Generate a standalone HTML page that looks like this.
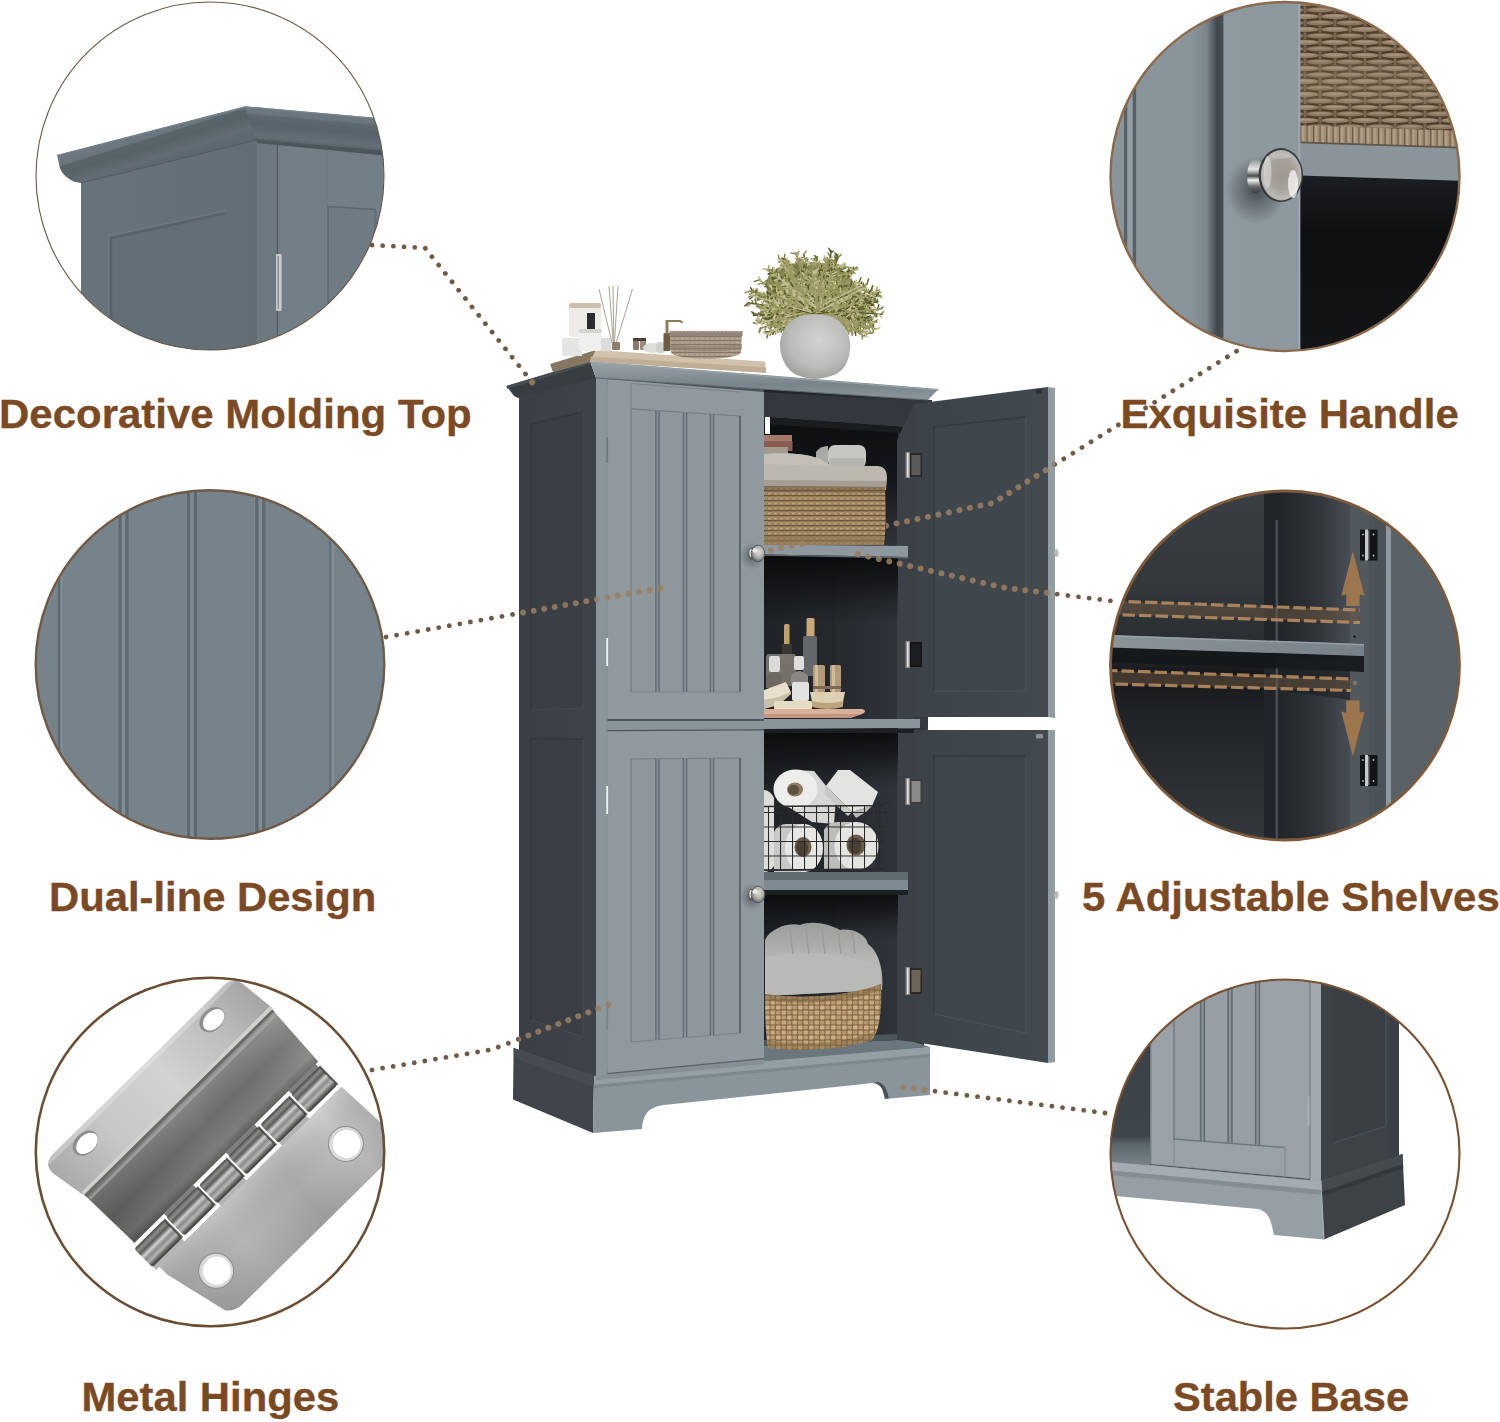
<!DOCTYPE html>
<html lang="en">
<head>
<meta charset="utf-8">
<title>Storage Cabinet Features</title>
<style>
html,body{margin:0;padding:0;background:#fff;}
body{width:1500px;height:1422px;overflow:hidden;position:relative;font-family:"Liberation Sans",Arial,sans-serif;}
svg{position:absolute;left:0;top:0;display:block;}
.lbl{font-family:"Liberation Sans",Arial,sans-serif;font-weight:bold;font-size:42px;fill:#7b4a24;stroke:#7b4a24;stroke-width:0.35px;}
.dots{fill:none;stroke:#6f5a45;stroke-width:4.8;stroke-linecap:round;stroke-dasharray:0.01 10.7;}
.dotsl{fill:none;stroke:#9a7f60;stroke-width:6;opacity:0.85;stroke-linecap:round;stroke-dasharray:0.01 10.7;}
.ring{fill:none;stroke:#7b5230;stroke-width:2;}
</style>
</head>
<body>
<svg width="1500" height="1422" viewBox="0 0 1500 1422">
<defs>
<clipPath id="k1"><circle cx="210" cy="176" r="174"/></clipPath>
<clipPath id="k2"><circle cx="210" cy="664.5" r="174.5"/></clipPath>
<clipPath id="k3"><circle cx="210" cy="1152" r="174"/></clipPath>
<clipPath id="k4"><circle cx="1285" cy="176.5" r="174.5"/></clipPath>
<clipPath id="k5"><circle cx="1285" cy="665.5" r="174.5"/></clipPath>
<clipPath id="k6"><circle cx="1285" cy="1154" r="174.5"/></clipPath>
</defs>
<g id="dots">
<polyline class="dots" points="372,245 425,248 533.2,383.6"/>
<polyline class="dots" points="386,637 661,588"/>
<polyline class="dots" points="372,1070 492,1049.5 610,1004"/>
<polyline class="dots" points="1236.5,351.2 993,503 767,551"/>
<polyline class="dots" points="1110.4,600.8 1004,587.6 857,554"/>
<polyline class="dots" points="1105,1113 902,1087"/>
</g>
<g id="cabinet">
<linearGradient id="gInt" x1="0" y1="0" x2="1" y2="0"><stop offset="0" stop-color="#1f2327"/><stop offset="0.45" stop-color="#262a2f"/><stop offset="1" stop-color="#353a40"/></linearGradient>
<polygon points="763,388 932,400 924,1050 763,1062" fill="url(#gInt)"/>
<linearGradient id="gTopSh" x1="0" y1="0" x2="0" y2="1"><stop offset="0" stop-color="#0b0d0f" stop-opacity="0.95"/><stop offset="0.5" stop-color="#0e1012" stop-opacity="0.8"/><stop offset="1" stop-color="#15181b" stop-opacity="0"/></linearGradient>
<rect x="764" y="415" width="134" height="130" fill="url(#gTopSh)"/>
<polygon points="764,392 930,402 916,428 764,417" fill="#33383e"/>
<polygon points="764,417 916,428 916,434 764,424" fill="#1a1d20"/>
<polygon points="765,417 770,417 770,434 765,434" fill="#fff"/>
<rect x="832" y="558" width="3" height="160" fill="#22262a"/>
<rect x="832" y="890" width="3" height="150" fill="#22262a"/>
<polygon points="897,440 914,404 914,1044 897,1046" fill="#3b4147"/>
<polygon points="764,1046 897,1040 914,1042 930,1047 764,1062" fill="#6b777e"/>
<polygon points="764,1040 897,1034 897,1040 764,1046" fill="#4b555c"/>
<linearGradient id="gSide" x1="0" y1="0" x2="1" y2="0"><stop offset="0" stop-color="#3b4046"/><stop offset="1" stop-color="#3e4349"/></linearGradient>
<polygon points="519,396 596,377 596,1077 519,1050" fill="url(#gSide)"/>
<polygon points="531,424 583,412 583,708 531,710" fill="#3a3f45"/>
<polyline points="531,710 531,424 583,412" fill="none" stroke="#33383d" stroke-width="1.6"/>
<polyline points="583,412 583,708 531,710" fill="none" stroke="#454a50" stroke-width="1"/>
<polygon points="531,738 583,739 583,1037 531,1020" fill="#3a3f45"/>
<polyline points="531,1020 531,738 583,739" fill="none" stroke="#33383d" stroke-width="1.6"/>
<polyline points="583,739 583,1037 531,1020" fill="none" stroke="#474c52" stroke-width="1"/>
<polygon points="513.6,1048 594,1076 593,1133 513,1099.6" fill="#3f454b"/>
<polygon points="513.6,1048 594,1076 594,1087 514,1058" fill="#454b51"/>
<path d="M594,1076 L930,1047 L930,1095 L885,1099 C883,1090 882,1084 873,1083 L664,1105 C648,1107 643,1115 642,1129 L593,1133 Z" fill="#8a959b"/>
<path d="M594,1076 L930,1047 L930,1054 L594,1085 Z" fill="#949fa5"/>
<path d="M594,1085 L930,1054 L930,1057 L594,1088 Z" fill="#7d888e"/>
<path d="M885,1099 C883,1090 882,1084 873,1083 L878,1082 C886,1084 887,1092 889,1098 Z" fill="#4a5157"/>
<polygon points="596,376 764,388 764,396 596,384" fill="#4a5157"/>
<polygon points="596,1070 764,1054 764,1064 596,1080" fill="#858f95"/>
<polygon points="596,377 607.5,378 607.5,1075 596,1077" fill="#8b969c"/>
<line x1="607.3" y1="380" x2="607.3" y2="1074" stroke="#6f7a80" stroke-width="1"/>
<polygon points="607.5,379 764,392 764,719 607.5,719" fill="#8f999e"/>
<polygon points="631,409 740,416 740,692 631,692" fill="#8d979c"/>
<polyline points="631,692 631,409 740,416" fill="none" stroke="#737e84" stroke-width="1.2"/>
<polyline points="740,416 740,692" fill="none" stroke="#566066" stroke-width="1.8"/>
<polyline points="740,692 631,692" fill="none" stroke="#7c878d" stroke-width="1"/>
<rect x="655.1" y="410.7" width="4.8" height="281.3" fill="#848f95"/>
<rect x="655.3" y="410.7" width="1.2" height="281.3" fill="#5f6a70"/>
<rect x="658.5" y="410.7" width="1.2" height="281.3" fill="#5f6a70"/>
<rect x="682.6" y="412.5" width="4.8" height="279.5" fill="#848f95"/>
<rect x="682.8" y="412.5" width="1.2" height="279.5" fill="#5f6a70"/>
<rect x="686.0" y="412.5" width="1.2" height="279.5" fill="#5f6a70"/>
<rect x="709.6" y="414.2" width="4.8" height="277.8" fill="#848f95"/>
<rect x="709.8" y="414.2" width="1.2" height="277.8" fill="#5f6a70"/>
<rect x="713.0" y="414.2" width="1.2" height="277.8" fill="#5f6a70"/>
<polyline points="631,409 631,383.5 740,392" fill="none" stroke="#7a848a" stroke-width="1"/>
<polyline points="631,731.5 631,759" fill="none" stroke="#7a848a" stroke-width="1"/>
<polygon points="607.5,731 764,730 764,1058 607.5,1073" fill="#8f999e"/>
<polygon points="631,759 740,758 740,1033 631,1042" fill="#8d979c"/>
<polyline points="631,1042 631,759 740,758" fill="none" stroke="#737e84" stroke-width="1.2"/>
<polyline points="740,758 740,1033" fill="none" stroke="#566066" stroke-width="1.8"/>
<polyline points="740,1033 631,1042" fill="none" stroke="#7c878d" stroke-width="1"/>
<rect x="655.1" y="758.8" width="4.8" height="281.1" fill="#848f95"/>
<rect x="655.3" y="758.8" width="1.2" height="281.1" fill="#5f6a70"/>
<rect x="658.5" y="758.8" width="1.2" height="281.1" fill="#5f6a70"/>
<rect x="682.6" y="758.5" width="4.8" height="279.0" fill="#848f95"/>
<rect x="682.8" y="758.5" width="1.2" height="279.0" fill="#5f6a70"/>
<rect x="686.0" y="758.5" width="1.2" height="279.0" fill="#5f6a70"/>
<rect x="709.6" y="758.3" width="4.8" height="277.1" fill="#848f95"/>
<rect x="709.8" y="758.3" width="1.2" height="277.1" fill="#5f6a70"/>
<rect x="713.0" y="758.3" width="1.2" height="277.1" fill="#5f6a70"/>
<line x1="607.5" y1="1073.6" x2="764" y2="1058.6" stroke="#59636a" stroke-width="1.2"/>
<polygon points="607.5,719 764,719 764,730 607.5,731" fill="#8a959b"/>
<line x1="607.5" y1="720" x2="764" y2="720" stroke="#3c4248" stroke-width="1.6"/>
<line x1="607.5" y1="730.6" x2="764" y2="729.8" stroke="#4b5258" stroke-width="1.2"/>
<rect x="606.3" y="437" width="1.8" height="26" fill="#6e797f"/>
<rect x="606.3" y="638" width="1.8" height="28" fill="#f2f2f2"/>
<rect x="606.3" y="786" width="1.8" height="28" fill="#f2f2f2"/>
<rect x="606.3" y="1001" width="1.8" height="29" fill="#79848a"/>
<radialGradient id="gKn" cx="0.55" cy="0.4" r="0.65"><stop offset="0" stop-color="#dcdad4"/><stop offset="0.5" stop-color="#b5b3ad"/><stop offset="0.85" stop-color="#77787a"/><stop offset="1" stop-color="#3f4042"/></radialGradient>
<radialGradient id="gKs" cx="0.5" cy="0.5" r="0.5"><stop offset="0" stop-color="#4a5258" stop-opacity="0.7"/><stop offset="1" stop-color="#4a5258" stop-opacity="0"/></radialGradient>
<ellipse cx="752" cy="556" rx="12" ry="14" fill="url(#gKs)"/>
<ellipse cx="752" cy="897" rx="12" ry="14" fill="url(#gKs)"/>
<linearGradient id="gShd" x1="0" y1="0" x2="0" y2="1"><stop offset="0" stop-color="#08090a" stop-opacity="0.95"/><stop offset="0.35" stop-color="#0c0d0f" stop-opacity="0.75"/><stop offset="1" stop-color="#101214" stop-opacity="0"/></linearGradient>
<rect x="764" y="554" width="134" height="70" fill="url(#gShd)"/>
<rect x="764" y="728" width="134" height="60" fill="url(#gShd)"/>
<rect x="764" y="889" width="134" height="50" fill="url(#gShd)"/>
<polygon points="764,544.5 908,546 908,557 764,554.5" fill="#8e989e"/>
<polygon points="764,554.5 908,557 908,558.4 764,555.8" fill="#5c666c"/>
<polygon points="764,719 920,719 920,728 764,729" fill="#8a959b"/>
<rect x="764" y="729" width="150" height="4" fill="#1d2023"/>
<polygon points="764,872 908,872 908,880 764,880" fill="#5f6a71"/>
<polygon points="764,880 908,880 908,890 764,890" fill="#7e8a91"/>
<rect x="764" y="890" width="144" height="5" fill="#1d2023"/>
</g>
<g id="items">
<defs>
<pattern id="pWk1" width="6" height="5" patternUnits="userSpaceOnUse"><rect width="6" height="5" fill="#9b815d"/><rect x="0" y="0" width="6" height="1.3" fill="#6e573c"/><rect x="0" y="2.6" width="2.8" height="1.7" fill="#bfa57c"/><rect x="3.2" y="1.5" width="2.4" height="1.2" fill="#ac9169"/></pattern>
<pattern id="pWk2" width="11" height="10" patternUnits="userSpaceOnUse"><rect width="11" height="10" fill="#876a48"/><rect x="0.5" y="0.5" width="4.6" height="4" rx="1" fill="#c4a97f"/><rect x="6" y="0.8" width="4.4" height="3.6" rx="1" fill="#b4986c"/><rect x="0.5" y="5.5" width="4.4" height="3.8" rx="1" fill="#b99c70"/><rect x="6" y="5.4" width="4.6" height="4" rx="1" fill="#c9b088"/></pattern>
<pattern id="pGrid" width="12" height="14.5" patternUnits="userSpaceOnUse"><path d="M0.5,0 V14.5 M0,0.5 H12" stroke="#2a2a2a" stroke-width="1.1" fill="none"/></pattern>
<linearGradient id="gTowel" x1="0" y1="0" x2="0" y2="1"><stop offset="0" stop-color="#9c9c9a"/><stop offset="0.5" stop-color="#b6b6b4"/><stop offset="1" stop-color="#a6a6a4"/></linearGradient>
</defs>
<rect x="764" y="435" width="28" height="7" fill="#a57a6d"/>
<rect x="764" y="441" width="28.5" height="10" fill="#8b5d52"/>
<rect x="764" y="447" width="24" height="8" fill="#a3998d"/>
<path d="M816,452 q4,-6 12,-6 v18 h-12 z" fill="#a9a9a5"/>
<rect x="828" y="445" width="38" height="23" rx="7" fill="#c6c6c2"/>
<rect x="829" y="458" width="36" height="9" rx="4" fill="#b4b4b0"/>
<path d="M764,454 C790,452 812,455 822,460 C828,464 832,466 840,466 L878,466 C885,467 887,471 887,478 L886,490 L764,489 Z" fill="#bdb8af"/>
<path d="M764,454 C790,452 812,455 822,460 C826,463 829,465 834,466 L764,464 Z" fill="#c2bfb8"/>
<path d="M764,480 L886,481 L886,489 L764,488 Z" fill="#a49e94"/>
<path d="M764,486 L885,487 C886,510 886,530 884,545 L764,545 Z" fill="url(#pWk1)"/>
<path d="M764,486 L885,487 L885,493 L764,492 Z" fill="#6e5a40" opacity="0.5"/>
<path d="M764,536 L884,537 L884,545 L764,545 Z" fill="#8d744f" opacity="0.6"/>
<rect x="784" y="624" width="5.5" height="22" rx="1.5" fill="#c2a06c"/>
<rect x="782" y="644" width="10" height="20" fill="#3a3632"/>
<rect x="806.5" y="618" width="8" height="19" rx="1.5" fill="#c9a776"/>
<rect x="803" y="636" width="14" height="40" rx="2" fill="#64686a"/>
<rect x="766" y="654" width="30" height="32" rx="3" fill="#8a847c" opacity="0.8"/>
<rect x="769" y="656" width="11" height="16" rx="2" fill="#dadad8"/>
<path d="M766,676 q8,-8 16,0 v12 h-16 z" fill="#6e6862"/>
<rect x="794" y="656" width="10" height="14" rx="2" fill="#dededc"/>
<path d="M791,676 q8,-10 17,0 v8 h-17 z" fill="#8b8782"/>
<rect x="792" y="682" width="17" height="19" rx="2" fill="#e2e2e0"/>
<rect x="813" y="665" width="12" height="27" rx="1.5" fill="#b29a7a"/>
<rect x="815" y="665" width="3" height="27" fill="#d0bb9b"/>
<rect x="830" y="665" width="11" height="27" rx="1.5" fill="#b29a7a"/>
<rect x="832" y="665" width="3" height="27" fill="#d0bb9b"/>
<rect x="813" y="686" width="28" height="3" fill="#7c6a52"/>
<path d="M810,692 h35 l-2,10 q-15,4 -31,0 z" fill="#dccfb2"/>
<path d="M811.5,701 q16,4 32,0 l-0.8,6 q-15,4 -30.5,0 z" fill="#bfa57e"/>
<polygon points="764,690 786,682 791,692 779,703 764,708" fill="#e7dfcb"/>
<polygon points="764,700 779,697 791,692 791,694 779,705 764,709" fill="#c9bfa8"/>
<rect x="774" y="701" width="38" height="8.5" rx="1.5" fill="#e6dcc4"/>
<path d="M764,709 L862,709 C866,710 866,712 862,714 L850,718 L764,718 Z" fill="#d9b19b"/>
<path d="M764,714 L862,714 L850,718 L764,718 Z" fill="#c29682"/>
<path d="M764,790 q6,0 10,8 v68 q-4,6 -10,6 z" fill="#dcdcda"/>
<path d="M795,770 L814,771 L836,798 L834,824 L812,822 L790,808 Z" fill="#d6d6d4"/>
<ellipse cx="795.5" cy="789" rx="22" ry="19.5" fill="#ededeb"/>
<ellipse cx="795" cy="789.5" rx="8" ry="7" fill="#8d7b5f"/>
<ellipse cx="793.5" cy="790" rx="5.5" ry="5" fill="#5e5140"/>
<path d="M838,770 L850,770 L878,792 L872,806 L852,812 L826,786 Z" fill="#e3e3e1"/>
<path d="M852,812 L872,806 L866,812 L856,818 Z" fill="#b9b9b7"/>
<path d="M826,786 L852,812 L848,816 L824,794 Z" fill="#c9c9c7"/>
<path d="M774,832 q4,-8 12,-8 h20 v48 h-32 z" fill="#c8c8c6"/>
<ellipse cx="804" cy="848" rx="19" ry="24" fill="#e6e6e4"/>
<ellipse cx="803" cy="847" rx="8.5" ry="10" fill="#6b5c48"/>
<ellipse cx="802" cy="848" rx="6" ry="7.5" fill="#4a3f32"/>
<path d="M824,830 q4,-8 14,-8 h18 v48 h-32 z" fill="#bdbdbb"/>
<ellipse cx="856.5" cy="846" rx="22" ry="24" fill="#e4e4e2"/>
<ellipse cx="856" cy="845" rx="9.5" ry="10.5" fill="#6b5c48"/>
<ellipse cx="855" cy="846" rx="6.5" ry="8" fill="#4a3f32"/>
<path d="M764,806 L880,805 L888,802 L884,870 L764,871 Z" fill="url(#pGrid)"/>
<path d="M764,806.5 L880,805.5 L888,802.5" fill="none" stroke="#2a2a2a" stroke-width="1.6"/>
<path d="M880,805.5 L879,870" fill="none" stroke="#2a2a2a" stroke-width="1.2"/>
<path d="M764,870 L884,869" fill="none" stroke="#2a2a2a" stroke-width="1.6"/>
<path d="M765,940 C770,928 790,922 800,925 C812,920 830,924 840,930 C852,928 866,934 868,944 C880,952 884,975 882,990 L765,996 Z" fill="url(#gTowel)"/>
<path d="M765,958 C790,950 840,950 880,966 L882,990 L765,996 Z" fill="#b9b9b7"/>
<path d="M790,930 l3,24" stroke="#9a9a98" stroke-width="1.5" fill="none"/>
<path d="M806,930 l3,24" stroke="#9a9a98" stroke-width="1.5" fill="none"/>
<path d="M822,930 l3,24" stroke="#9a9a98" stroke-width="1.5" fill="none"/>
<path d="M838,930 l3,24" stroke="#9a9a98" stroke-width="1.5" fill="none"/>
<path d="M852,930 l3,24" stroke="#9a9a98" stroke-width="1.5" fill="none"/>
<path d="M765,994 C800,1000 850,996 881,984 C882,1010 880,1030 872,1040 C840,1050 800,1052 768,1048 C765,1030 765,1010 765,994 Z" fill="url(#pWk2)"/>
<path d="M765,994 C800,1000 850,996 881,984 L881,990 C850,1002 800,1006 765,1000 Z" fill="#7d6340" opacity="0.55"/>
<path d="M768,1040 C800,1046 840,1044 874,1032 L872,1040 C840,1050 800,1052 768,1048 Z" fill="#7d6340" opacity="0.5"/>
</g>
<g id="cab2">
<linearGradient id="gRD" x1="0" y1="0" x2="1" y2="0"><stop offset="0" stop-color="#3c4248"/><stop offset="1" stop-color="#424a50"/></linearGradient>
<polygon points="914,404 1048,387 1048,717 914,717" fill="url(#gRD)"/>
<polygon points="934,427 1026,417 1026,691 934,691" fill="#3f474d"/>
<polyline points="934,691 934,427 1026,417" fill="none" stroke="#353b40" stroke-width="1.5"/>
<polyline points="1026,417 1026,691 934,691" fill="none" stroke="#4a5258" stroke-width="1.2"/>
<polygon points="1048,387 1055,388 1055,718 1048,717" fill="#919ca2"/>
<polygon points="914,730 1048,730 1048,1063 914,1042" fill="url(#gRD)"/>
<polygon points="934,756 1026,756 1026,1033 934,1014" fill="#3f474d"/>
<polyline points="934,1014 934,756 1026,756" fill="none" stroke="#353b40" stroke-width="1.5"/>
<polyline points="1026,756 1026,1033 934,1014" fill="none" stroke="#4a5258" stroke-width="1.2"/>
<polygon points="1048,730 1055,730 1055,1062 1048,1063" fill="#919ca2"/>
<rect x="1036" y="389.5" width="6" height="4" rx="1" fill="#2a2e32"/>
<rect x="1036" y="734" width="7" height="4.5" rx="1" fill="#8a9196"/>
<ellipse cx="1056.5" cy="553" rx="2" ry="4" fill="#b9bcbd"/>
<ellipse cx="1056.5" cy="895" rx="2" ry="4" fill="#b9bcbd"/>
<rect x="905.5" y="452" width="4.5" height="26" fill="#8a8b8a"/>
<rect x="907" y="453" width="1.6" height="24" fill="#e4e4e4"/>
<rect x="910" y="453" width="12" height="24" rx="1" fill="#2a2b2c"/>
<rect x="911.5" y="455" width="9" height="20" fill="#5a5b5b"/>
<rect x="905.5" y="641" width="4.5" height="27" fill="#8a8b8a"/>
<rect x="907" y="642" width="1.6" height="25" fill="#e4e4e4"/>
<rect x="910" y="642" width="12" height="25" rx="1" fill="#141516"/>
<rect x="911.5" y="644" width="9" height="21" fill="#1d1e1f"/>
<rect x="905.5" y="778" width="4.5" height="27" fill="#8a8b8a"/>
<rect x="907" y="779" width="1.6" height="25" fill="#e4e4e4"/>
<rect x="910" y="779" width="12" height="25" rx="1" fill="#3a3b3b"/>
<rect x="911.5" y="781" width="9" height="21" fill="#8a8a88"/>
<rect x="905.5" y="967" width="4.5" height="28" fill="#8a8b8a"/>
<rect x="907" y="968" width="1.6" height="26" fill="#e4e4e4"/>
<rect x="910" y="968" width="12" height="26" rx="1" fill="#2e2a26"/>
<rect x="911.5" y="970" width="9" height="22" fill="#6e655a"/>
<ellipse cx="751.5" cy="554" rx="3.5" ry="6" fill="#5d5f61"/>
<ellipse cx="751" cy="553" rx="1.6" ry="4" fill="#e6e6e4"/>
<ellipse cx="758" cy="553.5" rx="6.8" ry="8.3" fill="url(#gKn)" stroke="#4c4d4f" stroke-width="0.8"/>
<ellipse cx="755" cy="550.5" rx="2.6" ry="2.2" fill="#fff" opacity="0.7"/>
<ellipse cx="751.5" cy="895" rx="3.5" ry="6" fill="#5d5f61"/>
<ellipse cx="751" cy="894" rx="1.6" ry="4" fill="#e6e6e4"/>
<ellipse cx="758" cy="894.5" rx="6.8" ry="8.3" fill="url(#gKn)" stroke="#4c4d4f" stroke-width="0.8"/>
<ellipse cx="755" cy="891.5" rx="2.6" ry="2.2" fill="#fff" opacity="0.7"/>
<polygon points="506.4,386 590,361 596,378 518,398 514,396" fill="#383d42"/>
<polygon points="506.4,386 590,361 590.6,364 507.5,389" fill="#454c52"/>
<linearGradient id="gMold" x1="0" y1="0" x2="0" y2="1"><stop offset="0" stop-color="#9aa5ab"/><stop offset="0.25" stop-color="#8d979c"/><stop offset="0.6" stop-color="#78848b"/><stop offset="1" stop-color="#8c979d"/></linearGradient>
<polygon points="590,361 938.6,389 928,400 596,378" fill="url(#gMold)"/>
<polyline points="590,362 938.6,390" fill="none" stroke="#99a3a9" stroke-width="1.2"/>
<polyline points="596,378 928,400" fill="none" stroke="#5f6a70" stroke-width="1"/>
</g>
<g id="topobj">
<polygon points="550,364 596,350 591,362 553,372" fill="#857761"/>
<polygon points="596,350 765,361.5 766,373 590,361.5" fill="#d0c2ab"/>
<polygon points="591,356.5 766,367.5 766,373 590,361.5" fill="#bfae95"/>
<rect x="562" y="338" width="20" height="18" fill="#e4e4e2"/>
<rect x="569" y="303" width="32" height="34" rx="3" fill="#ecebe8"/>
<rect x="569" y="303" width="32" height="5" rx="2" fill="#cbbfae"/>
<rect x="587" y="313" width="8" height="16" fill="#2b2b2b"/>
<rect x="579" y="329" width="23" height="22" rx="4" fill="#efefed"/>
<rect x="579" y="329" width="23" height="4" rx="2" fill="#d2d2d0"/>
<rect x="601" y="338" width="10" height="13" fill="#dcdcda"/>
<line x1="612.1" y1="343" x2="599" y2="289" stroke="#a39684" stroke-width="0.9"/>
<line x1="613.3" y1="343" x2="609" y2="286" stroke="#a39684" stroke-width="0.9"/>
<line x1="613.8" y1="343" x2="613" y2="286" stroke="#a39684" stroke-width="0.9"/>
<line x1="614.4" y1="343" x2="618" y2="286" stroke="#a39684" stroke-width="0.9"/>
<line x1="616.1" y1="343" x2="632.5" y2="289" stroke="#a39684" stroke-width="0.9"/>
<rect x="612" y="342" width="8" height="8" rx="1" fill="#8f7f6b"/>
<rect x="633" y="338" width="6" height="12" rx="1.5" fill="#8a7868"/>
<rect x="640" y="338" width="6" height="12" rx="1.5" fill="#9b8a7a"/>
<rect x="633" y="338" width="13" height="3" fill="#4a4038"/>
<ellipse cx="652" cy="348" rx="9" ry="5" fill="#dcdcd8"/>
<rect x="656" y="342" width="9" height="11" rx="3" fill="#cfcfcb"/>
<rect x="663.5" y="333" width="7" height="18" rx="1" fill="#6c5d45"/>
<rect x="665.5" y="320" width="3" height="14" fill="#8c7a58"/>
<path d="M666,321 h14 q2,0.5 2,2" stroke="#8c7a58" stroke-width="2" fill="none"/>
<pattern id="pWk0" width="5" height="4" patternUnits="userSpaceOnUse"><rect width="5" height="4" fill="#a69786"/><rect y="0" width="5" height="1" fill="#857666"/><rect x="1" y="2" width="2.4" height="1.2" fill="#baac9b"/></pattern>
<path d="M670,333 L742,333 L741,352 C741,361 672,361 671,352 Z" fill="url(#pWk0)"/>
<path d="M669.5,331 H742.5 V336 H669.5 Z" fill="#94857a"/>
<path d="M669.5,331.5 H742.5" stroke="#b3a595" stroke-width="1.6" stroke-dasharray="2.4 1.4" fill="none"/>
<path d="M670,344 C690,347 722,347 742,344 L742,349 C722,352 690,352 670,349 Z" fill="#8a7b6d" opacity="0.55"/>
<ellipse cx="811" cy="291" rx="44" ry="29" fill="#8a8954" opacity="0.92"/>
<ellipse cx="796" cy="285" rx="30" ry="22" fill="#7c7d46" opacity="0.7"/>
<ellipse cx="833" cy="297" rx="30" ry="20" fill="#94935e" opacity="0.7"/>
<ellipse cx="780" cy="312" rx="20" ry="12" fill="#858650" opacity="0.6"/>
<ellipse cx="852" cy="309" rx="20" ry="11" fill="#8e8d58" opacity="0.6"/>
<path d="M817.2,308L809.1,262.1M812.3,280.3l3.4,-2.4M777.5,286.7l-2.6,1.4M860.8,299.3l2,-4.4M792.1,308.1l-1.4,-2.8M783.1,308l-2.3,-4.7M852,290.1l3.3,0.8M791.5,323.5l-3.3,-1.2M762.1,315.6l-3.2,-1.5M799.8,259.4l-2.5,-0.7M782.1,324.3l-3.8,3.9M780,325l-2.7,-1.1M777.9,325.6l-3.2,-2.9M827.5,293.5l3.5,-2.2M833.2,273.1l-1.4,-4.1M846.3,304.6l3.9,3.4M794.5,300.9l-4.7,0.9M790.6,298.1l0.3,-3M789.1,297l-3.6,-0M786.7,295.2l-1.5,-4.9M816.8,304.7L838.3,283.5M830.2,291.5l3.8,0.1M847.3,310.8l2.3,-4.2M853.4,310.1l2.2,-2.1M856.4,309.7l4.1,1.9M837,257.1l-1.9,-1.6M843.7,306.6l2.3,3.2M848.2,305.6l2.2,3.6M780.8,316.9l-1.1,2.9M778.5,317.2l-1,3.3M867.5,333.4l5.4,-0.6M789,298.3l-0.7,-3.1M780.2,293.7l-2.2,-3.5M777.5,292.2l-3.4,2.2M815.8,265.6l-2.7,-2.8M788,305.1l-2.8,2.8M761.6,293.7l-3.5,1.4M799.8,266.3l-3.7,-1.9M795.3,306.5l-3.3,-2.8M787.3,300.7l-1.3,-2.4M785.8,300.1l-1.2,-4.2M793,306.8l-1.2,-2.3M790.4,305.9l-2.6,2.5M779.5,301.9l-0.1,-3.5M798.8,286.3l1.3,-2.6M795.3,279.3l1.8,-3.3M850.4,310.1l2.1,2.2M860.9,309.3l2.2,-4.3M838.7,312.9l1,-3.3M850.2,311.9l3.2,-2.7M838.5,301.9l1.7,-4.9M857.8,318.7l2.8,-4.1M783.1,292.2l0.1,-4.2M778.7,307.4l-3.7,1.9M753.1,303.6l-1.2,-3M785.9,304.1l-0.4,-3.7M827.4,284.2l4,-2.5M800.8,286.9l2,-4.3M800.5,285.3l-5,-0.9M853.1,318.9l1.7,2M816.1,296.6l-4,-3.4M817.2,291.8l-2.1,-2.5M799.8,298.2l1.3,-4.6M788,286.3l0.2,-3.9M837.2,316.6l3.8,-2M824.4,267.3l3.4,-0.5M824.6,266.6l3.8,-1.4M823.7,285.4l-2.6,-2.8M805.4,294.3l-2.8,-1.4M815.1,312.1L780.7,291.5M793.5,299.1l-1.1,-2.3M850,324.7l1.8,3.4M822.9,291.4l-3.4,-3.2M823.9,282.1l2.4,-0.9M769.1,279.4l-4.3,2.4M803.5,303.2l-1.7,-4.3M800.4,301.6l-0.5,-3M776.7,289.1l-3.8,1.5M814.9,284.7l0.8,-2.7M806.3,262l1.7,-2.8M819.1,292.8l-3.6,-1.4M829.4,295.4l4.2,-0.6M844.2,278.9l3.4,-0.8M779.9,280.4l-0.7,-4.6M770,272.3l-0.9,-2.9M831.1,270.2l4.1,-2.6M815.7,311.7L870.5,319.2M839.7,315l3.4,-4M854.4,317l1.7,2.6M869.5,319.1l2.1,-2M805,305.7l0,-4.1M798.1,300.8l-4.1,2.8M821.9,299.2l1.5,-3.1M840,286l4.4,-0.8M822.3,316.7L869.1,328.5M768.3,297.9l-0,-4.8M760,294.5l-2.5,0.5M769.8,320.5l-4.6,-2.6M767.1,320.7l-3.8,2.6M783.8,317.5l-2.5,-1.7M783.4,317.6l-2.1,-1.5M772.3,319.9l-4.4,-2.7M787.1,284l-4,1.8M815.4,289.1l-2.1,-3.4M792.1,324l-4.1,-1.3M791.3,324.4l-1.2,3M789,325.6l-2,3M785.7,327.3l-1.3,3.2M845.4,297.5l2.3,-4.2M862.5,288.6l1.8,-2.8M846.4,301l0.4,-3.6M804.6,307.8L769.1,277.4M785.3,291.3l-4.8,0.5M844.8,324.2l-0.1,3.3M859.4,330.7l3,-0.1M832.2,311.3l3.5,3.8M795.8,278.7l0.5,-3.6M847.9,319.8l4.3,-3.1M815.4,303.1L829,265.8M824.1,279.3l3.1,-2.4M828.4,267.5l3.6,-0.2M792.1,319.6l-4.4,-2.3M817.8,306.2L805.6,279.4M822.5,307.8L856.3,299.4M826.5,286.9l3.2,0.3M797.7,302l-3.1,-0.2M795.3,299.5l0.1,-4.1M797.7,316.1l-4.6,-2.4M791.2,317l-3.6,-2.5M759.2,280l-4.8,1.4M788,309.9l-1,-4.2M779.1,308.7l-3.9,1.5M773.1,301.7l-1.7,-2.5M750.9,295.5l-2,1.5M857.8,298.8l0.5,-4.2M821.3,282l-2.1,-1.9M818.3,288.1l-0.7,-2.7M820.3,281.6l-2.2,-2.3M824,293.1l4.3,1.2M797.6,280.2l-2.8,-2.5M843,300l5,2.2M788.9,319l-2,2.1M817.6,289.4l3.5,-4.1M781.3,326.9l-2.4,2.4M778.4,327.8l-0.6,4.3M829.6,320.2l2.4,-2.3M837.1,323.7l3.4,-3.3M840.8,325.4l4.4,-3M836.9,305.2l0.6,-3.9M787.2,312.5l-2.7,0.8M810.2,302.2L817.4,256.8M851.9,317.8l1.8,2M833.4,319l2.3,-1.6M845.6,322.3l3.5,3.7M793.9,279.8l-3.6,-0.8M792.7,277.5l2.2,-4.3M794.6,294l-4.6,0.1M831.3,288.2l0.1,-3.2M839.2,279.8l4.3,-1.1M845.7,316.3l2.2,-2.9M803.7,289.4l-5.3,1.2M793.2,276.7l-4.5,1.4M781.5,262.5l-2.7,-0.7M798.9,279.8l2.7,-4.4M796.8,275.7l1.4,-2.4M794.3,270.8l-3,-1.8M856.4,319.8l2.1,-2.4M858.9,320.3l3.7,-3.6M798.1,296.9l0.4,-2.9M848.4,321l1.7,2.5M793,306l-2.3,4.4M850.7,319.7l2.5,4.3M812.2,291.1l1,-4.2M809.6,284l-2.9,-1.3M787.3,317.8l-2.8,2M835.8,317.6l1.4,4.2M838.7,318.3l1.2,4.5M794.2,296.2l1.5,-2.4M795,282l-3.8,-1.3M786.6,263.9l-4.6,-0.1M834.4,269l5.3,-0.3M800.7,280.9l2.3,-4M788.4,265.9l0,-5.2M786,263l-3.5,-1.6M858.1,332.3l3.1,-2.3M825.4,315.1L852.3,330.8M838.7,322.9l2.9,-1.7M841.3,324.4l4.6,-1M843.6,325.7l3.9,-2M823,289l2.8,-3.6M812.6,290.4l1.3,-4.2M810.9,285.9l1.1,-3.9M801.5,313.9L763.7,305.1M785.5,310.2l-0.7,-3.1M773.1,307.3l-4.9,2.4M784.5,303.4l-5.3,1M839.2,310.2l3.2,1.6M839.5,310.1l5.2,1.3M840.7,309.8l3.5,1.2M841.8,309.5l2.5,-3.5M843.5,296.5l4.8,0.3M849.5,307.3l3.8,-3.8M865.4,303l1.6,-2.4M782.1,291l-4.9,-0.6M812.9,305.5L806.3,288M807,289.9l-3,-2.4M806.7,289.1l1.3,-2.9M809.3,298.4l-2.5,-2.7M808.3,290.1l-3.2,-2M792,307l-4.1,2.3M787,305.4l-3.4,3.8M763.7,298l-1.9,-3.7M814.5,289l2.9,-1.9M819.7,272l3.8,-1.8M820.3,270.1l-2,-4.3M832.5,290.4l-1.3,-2.7M836.1,281.1l2.2,-1.8M836.5,280.2l2.7,-0.3M840.7,269.2l-1.6,-2M863.8,286l-0.4,-2.8M823.4,303.3l-0.4,-4.4M826.1,301.7l0.1,-2.6M812.4,288.9l4.5,-1.6M787.9,308.4l-4,1.9M774.6,319.5l-3.3,-1.5M767.4,321.2l-3.1,-3.7M759.3,323.1l-3.1,-3.1M824.9,309.8L856.4,267.1M846.9,280l4.2,-0M789.7,297.1l-3.8,0.9M784.9,295.5l-2,-3.5M783.3,295l-3,-3.4M779.9,293.9l-2.2,1.7M769.3,290.4l-2.1,-4.9M816.1,308.9L854.2,287.1M850.4,289.3l4.3,1.4M850.6,289.1l5,0.8M783.5,325.5l-0.1,5.3M768,333.7l-1.1,4.2M814.2,308.2L770.7,303.3M776.4,304l-2.1,-1.6M830.8,314.8L865.4,305.2M843.1,311.4l2.3,-2.7M849.6,309.6l4.4,2.9M863.1,305.8l1.4,-2.9M821.3,293.6l4.8,-0M823.4,290.9l4.5,-1.2M792.2,309.6l-2.5,-1.4M760.5,308.5l-3.3,-2.2M825.4,310.6L872.6,289.9M840.8,303.8l0.6,-3.6M863.7,293.8l1.9,-3.4M799.7,317.7l-0.8,4M849,325.4l3.6,-2.3M856,326.8l2.1,2.1M846.8,304l1.9,-2.8M869.5,327.1l2.9,-3.9M824.8,273.8l3.8,-3.1M802.2,305.8l-2.3,3.2M840.8,278.6l3.8,-1.3M835.7,314.7l3.5,4.3M842.8,316l5.1,-1.7M847.7,316.9l1.4,2.4M850.2,317.4l1.9,1.9M807.5,286.7l3.4,-3.7M835.4,277.7l-1.4,-2.7M839.7,306.2l3.2,1.4M787.3,316.6l-0.8,3.1M782.2,318.1l-2.5,2.8M780.2,318.7l-2.9,-1.4M847.6,320.8l3.2,-0.8M834.9,294.3l1.1,-3.5" stroke="#6f7038" stroke-width="1.45" stroke-linecap="round" fill="none"/>
<path d="M813.7,288.1l3.5,-3.4M811.8,277.2l2.8,-3.4M810.1,267.7l-2.9,-1.1M800.5,299.4l-3.1,1M848.3,303.7l2.4,-2.6M779.7,320.1l-4.6,-3M833,299.7l3.3,2.8M843.2,294.5l1.6,-2.9M784.4,326.2l-0.2,2.8M801.8,315L757.9,315.7M769.1,315.5l-1.4,2.1M766.1,315.6l-3,2.9M764.7,315.6l-3.2,3.7M803.8,289.8l4.7,-2.9M803.3,285.5l1.6,-2M801.5,272l-2.6,-2.4M801,268.6l-2.9,-1.3M800.8,267.1l-2,-3M800.5,264.7l-4.2,-1M794.3,317.5l-2.4,-2.5M782.5,321.2l-4,-2.4M829.7,285.6l-1,-4.7M830.2,283.9l-2.9,-3.1M830.4,283.1l-3.2,-3.8M795.3,281.4l0.6,-2.9M787.8,271.8l-4.5,1.1M866,299.1l3.2,2.5M872.5,297.3l2.8,1.9M788.4,296.4l-0,-3.2M781,291.1l-4,0.5M795.5,320l-4.7,-1.3M815.5,310.9L749.4,290.9M784.7,301.6l-2.2,-2.6M781.6,300.6l-1.6,-3.7M756.5,293l-1.4,-2.1M850.9,310.4l4.9,2.3M824.6,281.6l5.1,-1.5M827.8,286.1l2.4,-1.2M834.2,265.9l4.9,-0.6M798.9,311.7l-1.8,-2.4M852.1,304.8l4,3.3M794.8,314.8l-2.5,-0.9M790.3,315.5l-3.4,3.7M789.2,315.6l-1.1,3.2M759.9,295.3l-2.9,-3.8M795.6,301.8l-1.7,-3.2M816.8,270.6l1,-3.7M768.5,296.7l-1.9,-2.5M767.5,296.3l-3.6,3.2M801.2,276.1l-2.5,-1.2M787.2,304.3l-2.1,-3.9M776.7,296.4l-3.3,0.2M777.6,301.2l-4.9,2.3M791.7,272.1l-3.1,-1.4M841.5,312.7l1.6,3.2M861.4,310.8l2.8,2.6M793.8,302.3l-2.8,0.1M787,299l-0.7,-2.4M789.9,309.1l-2.4,-2.8M762.6,305l-1.4,2.1M828.2,277.4l3.8,-3.8M803.9,303L798.2,273.3M799.9,282.1l1.1,-3.6M844.1,317.1l4.3,-2.3M789.7,288.1l1.5,-3.3M785,294.1l0,-3.3M783.9,293.4l-4,0.1M837.8,319.3l0.9,4.4M822.5,295.3l3,-1.8M776,284l-2,-3.8M770.9,280.6l-2.5,1.3M802.8,301l0.7,-3.8M796.3,291l-4,-0.8M799.2,300.9l-4.9,1.8M795.5,298.9l0.3,-3.3M792.5,297.4l-2,-3.5M849.1,330.3l4.1,-0.3M850.6,271.8l4.4,1.3M843.6,309.9l0.7,-3.2M793.4,291.3l-1.6,-3.5M821.2,305.9L832.8,263.9M828.2,280.6l-3.4,-2.4M831.6,268.2l-1.5,-3.8M786.4,317.7l-0.5,4.4M779.9,320.4l-1.3,4.4M847.1,316l1.9,3.9M818.6,294.9l-4.7,-2.3M828.5,293.2l-1.2,-2.2M830.2,286.1l5,-1M830.9,283.3l-3.2,-3M811.4,300.3l3.5,-2M811.3,290l-2.5,-2.2M837.8,320.6l3.3,3.5M804.3,312.8L752.2,291.3M772,299.5l-2.1,-3.7M793.1,318.7l-2.8,1.6M756.8,315.2l-3.8,-2.8M791.4,315.9l-3.9,-3.7M787.7,316.7l-3.8,-2.2M779.3,318.5l-0.4,3M800.3,294.3l-3.9,0.4M794.6,289.9l0.8,-4.8M782.8,280.7l-4.1,-0.4M843.4,298.5l3.8,2.2M839.1,305.1l1.2,-4.5M851.3,298.2l3.8,1.6M827.3,317.2L857,330.1M835.8,323.8l3.3,-2.4M791,283.4l-4.7,-1.3M792.6,296.6l-4.9,-0.7M791.6,295.4l0.8,-4.5M843.5,317.7l1.2,4.5M856.1,323.7l1.6,3.9M823.3,281.4l4.1,-0.2M812.8,295.2l1.2,-3.7M811.7,292.8l-3.2,-2.1M807.2,282.9l0.4,-2.8M838.2,303.9l3.6,3.4M850.7,300.8l2.2,-3.6M854.7,299.8l1.9,1.8M823.1,292.7l3.8,-1.4M824.5,290.3l2.6,-0.7M793.9,297.9l-4.9,1.2M787.4,291l-2.7,0.5M789.1,317.3l-2.3,-3.6M790.1,300.2l0.4,-5M784.4,296.4l-4.3,0M777.9,292.2l-2.4,1.3M772.3,288.5l-4.3,-0.2M767.8,285.6l-1,-2.9M765.1,283.9l-3.3,-0.2M780.2,308.9l-3.8,2.1M793,307.2l-3.6,4.1M765.9,299.7l-2.5,-4.6M843.1,323.2l2.7,-1.2M833.1,286.6l0.6,-2.5M820.6,289.1l3.7,-2M821,279.5l4.2,-1.2M821.8,276.7l-0.5,-2.6M816.8,302.4l2.9,-0.3M818.5,300.2l-1.8,-4.2M821,297l2.6,-0.2M803.2,307.1L797,277.3M798.4,283.7l-3.6,-0.6M810.5,299.5l0.9,-2.7M809.6,298.5l-4.9,0.4M800.6,320.7l-2.7,4.5M793,323.1l-0.2,5.5M827.5,319.2l0.3,5M842.1,326l3.2,-1.2M847.8,328.7l4.4,-2.5M817.2,258.2l-2.8,-2.8M816,315.6L852.8,317.8M845.9,317.4l1.8,-2.7M766.7,310.4l-3,-3.7M828.3,286.3l2.1,-1.8M830.8,279.1l3.6,-1.3M818.9,315L853.9,324.6M850.8,323.7l1.5,4.7M800.6,292.7l-0.1,-3.5M794.5,281l-5.1,-1.6M804.8,310.2L770.8,269.7M787.4,289.4l0.7,-3.5M773.9,273.3l0.9,-2.5M771.9,271l0.9,-3.2M789,288.1l-4.5,-1.1M787,286l0.7,-2.8M784.6,283.5l0.6,-5.1M829.1,290.4l3.6,-0.4M837.3,281.8l0.2,-4.5M852,317.6l3.4,-3.8M786.6,268.7l2.1,-4.7M797.8,277.7l-4.6,-2.7M834.1,298.3l-1.1,-3.9M819.5,303.1L798.6,288.6M803.5,292l-1.5,-3.7M803.5,292l-0.7,-3.7M861.2,320.8l4.4,-2.8M837.9,316.6l4.4,-1.8M856.2,324.3l1.8,2.4M794.8,296.5l-0.4,-4M797.1,306.4l-3.9,-3.7M854.9,320.4l3.9,2.7M867,322.4l3,-2.8M811.2,288.4l-2.9,-0.3M809.9,284.9l-2.4,-2M805.2,271.9l-3.4,-1.8M823.8,291.4l4,-1.3M824.2,287.7l-1.7,-1.9M826.3,266.1l-4.2,-2.8M851.6,305.4l2.1,-4.8M848.3,321l2.7,2.6M797.5,287.4l-3.6,-2.2M796.7,285.6l0.8,-3M792.5,276.7l-4.3,-3.3M784.2,258.8l0.7,-4.5M832.3,273.5l4.9,-0.6M813.2,314L770.5,319M799.5,315.6l-2.2,-3.1M771.3,318.9l-2,4.1M797.7,277.2l1.8,-4.5M818.9,309.1L823,279.9M822.3,285l-3.7,-3.5M822.9,280.9l-1,-2.5M859.9,333.5l3.5,-2.1M863.5,335.8l3.4,-1.8M821.3,300.2l-2.7,-2.9M821.7,297.1l-1,-2.6M822,295.2l-2.7,-3M817.2,314.3L861.8,322.3M844.1,319.1l0.7,3.5M804.7,269.9l-3.1,-2.4M783.8,309.8l-3.8,3.5M777.3,308.3l-3.6,3.7M779.4,301.3l-0.2,-4.2M837.6,310.6l2.8,-2.8M860.4,304.4l2.9,1.3M863.2,303.6l1.3,-4.3M872.6,301.1l2.4,-3M800.4,306.6L774.4,284.5M787.4,295.5l-2.6,1.3M810.4,307.9L807.5,283.4M769,299.7l-1.7,-1.9M766.9,299l-3.6,2.7M761.4,297.3l-2.1,-4.5M822.8,306L847.7,282.8M838,291.8l1.2,-4.8M846.4,284.1l3.5,0.7M815.1,287.1l4.3,-1.2M833.5,287.8l-1.8,-3.6M834.8,284.5l3.2,-2.6M829.8,299.5l2.2,-3.8M841.1,292.6l1.1,-3.7M775.7,305l-2.1,2.6M757,323.7l-3.7,-0.9M817,306.1L768.9,290.3M787.3,296.3l-1.2,-3.7M845.8,314.1l3.8,-1.6M841.1,294.6l2.1,-3.5M772.1,331.6l-2.6,-0.3M800.1,306.6l-2.2,1.6M844.9,310.9l1.6,-2.4M852.8,308.7l2.4,-2.3M817.3,299l5.2,-0.5M826.5,286.8l0.1,-2.7M785.4,309.4l-0.9,-2.5M810.9,314.8L761.1,311.7M778.9,312.8l-2,2.1M766.1,312l-2.2,1.2M785.9,321.8l-4.1,-2.9M794.2,296.9l-4.8,2.2M838.9,323.4l5,-1.4M803,269.5l-3.1,-0.8M859.3,298.5l1.1,-3.9M861,297.8l3.8,2.7M863.2,296.8l3.3,1M870.7,293.5l3.4,1.5M819.1,290.3l3.9,-3.2M825.7,302.1l2.8,-4.2M835.1,296.9l0.1,-3.5M833.5,288.1l2.5,-0.7M839.5,280.3l2.7,0.7M843.2,275.6l3.4,0.8M875.2,322l1.9,-2.1M807.3,289.5l2.2,-1.3M773.2,303.4l-2.5,-4.4M815.4,312.4L843.3,305.3M788,316.4l-2.3,2.3M836.4,293.6l1.2,-2.7M853,285l1.7,-3.8" stroke="#7d7d45" stroke-width="1.45" stroke-linecap="round" fill="none"/>
<path d="M817.1,308.5L776.6,286.2M793.8,295.7l-2.2,-4.9M787.7,292.3l-4.1,2.1M876.4,293.7l4.7,2.5M793.7,308.1l-1.8,-4.9M791,308.1l-2.7,1.3M813.1,303.4L791.5,273.9M794.4,277.9l-2.8,0.4M806.7,317.5L769.7,331.9M771.5,331.3l-1.6,4.4M759.3,315.7l-3.9,-2.2M801.2,270.1l-1.9,-1.9M800,261.5l1.5,-2.4M810.9,312.2L759.7,328.5M766.4,326.3l-1.6,3.8M824.1,305.2L835,266.7M833.6,271.8l-2.7,-4.8M803.5,291.8l-4,-0.8M792,303.8l-3.3,2M789.9,303.1l-3.8,1.6M782.6,300.9l-0.8,-2.4M775.2,298.7l-1.8,-2.5M763.8,295.2l-1.9,1.9M750.1,291.1l-4.7,1.6M825.4,296.2l-0.3,-4.9M829.2,292.5l0.9,-2.7M834.4,287.4l4,1.3M836.9,284.9l1,-4.1M843.9,311.2l2.4,3.3M850.5,310.4l1.3,2.4M820.7,296.1l-2.6,-3.1M822,304.2L838,254.2M826.9,288.8l-1.9,-2.1M828.7,283.3l3.6,-3.6M836,260.4l-1.2,-4.6M836.4,258.9l-1.5,-2.6M815.8,312.5L765.2,310.1M791.7,311.3l-2.3,1.8M809.9,312.5L776.5,317.5M797,314.4l-2.9,-2.3M791.9,315.2l-1.5,2.3M781.4,303.2l-3,1.3M796.2,302.1l-2.6,0.2M790.9,299.3l-1,-4.2M774.5,290.7l-2.1,-3.2M832,319.4l2.5,-1.9M835.2,319.9l3.1,-3.7M814.5,258.8l3.2,-2.2M802.5,311.3L757.1,291.8M769.9,297.3l-3.6,3.5M801.8,280.1l-3.1,-1.6M800.9,273.6l3,-3.9M800.5,271.2l3.7,-3.8M780.7,298l-3.3,1M787.4,304.8l-1.8,1.8M799.5,287.7l0.4,-2.5M834.3,311.2l3.7,-4.1M853.4,309.8l3.4,-2.4M857.7,309.5l2.2,-1.8M845.1,312.4l1.8,-3.5M853.7,311.6l3,-2.5M863.4,310.7l2.7,-4.5M839.5,301.5l-0.3,-3.1M844.9,318.2l2.6,1.4M795.3,300.8l-3.9,0.5M788.3,295.9l0.6,-2.7M785.4,311l-2.6,1M786.3,308.5l-2.9,-2.1M751.1,303.3l-4.1,2.8M779.5,302.2l-2.8,1.3M777.6,301.6l-3.5,4.2M772.9,300.2l-1,-4.7M828.6,273.8l-3.9,-3.8M829.9,261.5l-2.9,-4.2M831.9,314.6l3.6,3.4M816.4,295.4l3,-0.9M840.4,317.5l2.7,3.6M818.5,289.8l-2.5,-3M819.1,287.4l-1.6,-3.3M825.1,264.5l3.8,-3.4M823.9,282.6l-3.2,-2.1M824.3,278.1l-2.5,-4.1M788.5,296.1l-3.8,2.5M782.1,292.3l-4.1,0.7M845.8,322.8l1.6,4.1M853.6,326.2l3.7,-2.6M822.2,297.2l2.8,-3.7M789.8,293.3l-1.5,-2.8M785.2,290.2l0.2,-4.1M809.1,269.5l1.3,-5.3M803.7,255.2l2.4,-4.1M842.5,280.8l4.9,0.5M796.6,294l-0.2,-3.2M772.8,274.6l-4.4,-0.2M828.6,279.2l-1.9,-2.8M832.4,277.2l2.5,-2M802.1,303.6l-0.5,-4.4M823.4,298.1l-0.1,-3.4M846.9,322.9l3.7,-2.6M856.9,325.4l2.4,-1M860.7,326.4l2.8,-1.7M775.6,300.9l-1.3,-2.5M785.5,314l-1,-2.3M782.3,314.1l-2.8,-1.4M780.6,314.2l-3.7,-2.6M769.2,314.7l-1.7,3.2M790.1,286.4l-0.7,-3.8M815.1,290.3l4.9,-1.4M815.6,288.1l2.2,-1.5M817.7,279.6l-2,-3.6M836,319.8l4.4,-1.2M846.3,324.2l0.2,3.5M853.4,293.3l-0.4,-2.9M856.6,291.7l3.4,0.7M849.5,299.2l-0,-4M793.2,298l0.5,-4M791.6,296.6l-4.9,0.5M843.8,324.4l0.2,4.3M854.2,328.9l1.2,4.1M833.7,323.1l2.2,2.9M799.5,295.4l1.2,-4.2M798.4,293.9l2.1,-3.3M795.9,300.5l-3.7,0.2M818.9,304.3L794.9,277.7M801.8,285.3l-3.2,-0.9M797,280l-3.5,-0.9M840.3,316.3l3.8,-2.6M841.5,316.8l4.9,-1.5M849.6,320.6l2.6,-0.1M820.6,288.9l4.9,-1.9M781.5,321.4l-2.3,4.5M815.6,300.2l2,-2.2M814.7,294.2l1.7,-3.3M813.6,287.9l1.5,-4M843.8,302.5l2.8,3.3M816.1,304.9L833.7,274.3M797.8,302.1l-5.2,-1.1M789.2,292.9l-4.3,1M782.2,318.3l-3.5,3.7M777.5,318.9l-2.9,-2.3M775.2,319.2l-2.8,-3.4M769,286.4l-4.6,0.3M783.3,309.3l-3.3,2.5M790.5,306.5l-2.9,3.9M770.6,301l-4.8,1.1M767.6,300.1l-4.3,1.5M760.5,298.2l-2.1,-2.5M829.1,290.7l5.2,-0M818.6,309.9L874.5,294.1M836.6,304.8l5,1.1M837.8,304.5l3.9,1.2M846.3,302.1l1.3,-3.9M870.2,295.3l1,-4.4M817.2,291.4l-2.7,-3.5M818.6,287l-2.5,-4M821,279.4l-1.6,-2.5M826.2,290.3l4.2,-1.4M780.3,321.8l-3.6,3.5M776.4,323.1l-4.4,-0.9M815.7,305.2L800.6,288.5M807,295.6l-3.5,1.4M823.3,307.6L813.3,275.9M796.2,322.1l-1.8,1.9M772.9,310.1l-2.9,-4.1M771.9,309.9l-3.1,-4.1M769.5,309.5l-1.1,-4.5M768.3,309.3l-1.6,-3.7M854.1,312.3l2.2,-2.9M859.9,312.8l3.8,-2.6M870.9,313.6l3.1,-4.5M880.9,314.3l2.8,-2.9M815.1,271.1l-3.8,-2.7M830.9,316.5l2.3,2.2M797.3,287.9l-4.3,0.1M782.9,266.7l1.1,-5.1M827,290.3l5.2,-0.3M832.7,273.3l4.8,-1.5M833.6,270.6l3,-2.1M838,257.7l3.3,-3.3M841.1,321.1l1.9,-2.5M806.9,304.8L791,274.3M796.2,284.2l-3,-0.4M795.7,283.3l-4.8,-2M778.2,278.4l0.7,-4.5M791.3,290.6l-4,0.4M781.5,280.3l0.7,-2.8M816.4,303.9L851.1,267.2M828,291.6l0.5,-2.5M838.8,314.9l2.4,-1M857.1,318.7l2,3.5M795,278.9l-0.5,-3M795.2,272.5l0.7,-5.2M793.6,269.4l-4.5,-0.8M837,315.5l3.2,-0.8M839.3,317.2l3.6,-2.2M852.3,322.7l4.3,-0.6M796.2,298.6l1.7,-3.5M793.9,306.1l-4,2.4M826.4,264.5l4,-1.8M826.6,262.7l3.6,-1.9M840.3,307.4l2.7,4.1M783.7,318.4l-2.2,-3.1M780.8,318.9l-4.1,-1.1M825.3,314.7L859,323.8M795.3,297.7l-3.8,0.9M806.1,305.9L784.2,258.7M815.8,307.8L834.7,268.5M830.5,277.3l-1.8,-4.8M788.3,316.9l-2.1,-1.6M801.9,282.4l-4.5,-0.4M799.1,279l-3.2,1M793.5,272.1l2.1,-4.2M854.8,306.4l2.1,2.4M857.7,305.8l2.7,-2.4M862.1,304.8l1.8,-3.6M868.7,303.5l0.7,-3.3M841.7,321.9l1.2,4.4M844.1,323.4l-0.5,3M848.1,328.4l2.3,3.3M822.3,293.5l-2.8,-1.7M808,278.6l-3.7,-1.8M787,310.5l-2.3,-3.1M836.5,310.9l1.6,-4.1M843.9,308.9l1,-3.3M821.5,310L847.9,293.8M833.6,302.6l1,-2.7M863.3,303.6l4.8,2.2M870.9,301.6l3.1,3.4M874,300.7l3.6,2.3M789,296.9l-2.8,-0.6M778,287.6l-0.8,-3.2M775.1,285l-2.9,0.4M808.6,292.7l3,-4M807.1,311.8L758.5,296.4M804.5,288.7l4.5,-2.7M843.2,287l4.1,-0.1M813.9,290.8l-1.7,-3.6M815.5,285.5l-3.2,-3.3M816.1,283.8l-1.8,-3.6M826.3,306.7L842.2,265.2M831.8,292.4l-2.4,-4.8M846.7,295.4l2.5,1.2M813.2,309.5L845.1,290.2M816.4,273.9l-1.9,-2.8M789.6,308.8l-2.3,1.5M847.4,279.3l4.2,-0.2M855.4,268.6l2.4,-0.8M777.7,293.2l-2.7,0.7M814.4,276.1l-4.8,-2M825.9,310.4L872.9,319.2M787,323.6l-1,4M780.8,326.9l-1.8,5.1M816,317.7L773.1,321.9M795.7,306.1l-2.2,-2.6M851.4,309.1l2,-2.1M818.7,297.1l0.8,-3.9M825.8,287.6l4.6,-1.6M848.3,300.5l1,-2.9M866,292.8l0.7,-3.5M793.2,319.6l-1.8,-2M783.9,322.4l-0.5,4.6M779,323.9l-0.4,2.7M775.8,324.8l-1.2,3.5M801.5,303.2l-3.7,-1M798.1,300.2l-0.2,-4M829.1,321.4l2.9,-1.9M812.9,290.5l-4,0M812.4,289.4l0.5,-4.4M795.6,253.8l-4.7,-0.8M831,298.7l0.2,-3.3M833.2,297.3l4.7,0.3M857.6,299.3l3,0.3M866.8,295.2l3.7,2.7M861.2,324.7l3.7,-1.4M864.9,325.8l1,3.4M820.8,285.3l2.9,-1.3M833.4,297.9l0.2,-5.2M817.1,309.5L846,271.9M845,273.2l3.8,0.7M851.6,317.6l2.7,-1.3M859.5,319.1l3.2,4M865.2,320.1l4.1,3.7M873.9,321.7l2.5,-1.1M806.9,294l3.2,-3.2M790.6,307.8l-5.1,1.2M778.9,304.9l-3.4,-4.1M784.2,317.5l-1,4.8M773.4,320.7l-4.6,-2.4M842.8,290.3l5,1.5M846.1,288.6l2,-5" stroke="#8e8d58" stroke-width="1.45" stroke-linecap="round" fill="none"/>
<path d="M813.9,289.5l2.2,-1.5M813.4,286.2l-4.3,-1.4M804,301.3l-2.3,-4.2M779,328.3l-3.3,-2.2M802.4,278.9l1.8,-2.9M786.5,319.9l-2.6,-2.3M770.9,324.9l-0.4,4.1M795.3,320.3l-3.8,-2.5M830.9,281.4l2.7,-1.2M831.8,278.2l-3.2,-2.9M792,277.1l-0.2,-3.2M787,270.8l-4.9,-1.7M843.6,305.4l0.8,-3.5M797.3,319.4l-4.4,-2.2M774.8,298.6l-3.5,2.7M762.7,294.9l-2.1,1.7M831.5,290.2l-1.6,-4.4M860,309.3l3,4.3M861.6,309.1l2.8,-3.5M818,306.3L825.3,278.8M821.9,291.6l-0.8,-4.2M822.7,288.7l3.3,-1.3M828.1,285.1l3.7,-3.8M775.9,310.6l-4.1,2.2M770.4,310.3l-2.1,1.8M766.9,310.2l-2,4.3M842,306.9l0.8,-2.5M766.7,297.8l-2.7,1.9M765.2,297.2l-0.7,-4.2M757.7,294.5l-4.6,0.8M861.4,330.7l0.5,3M863.8,331.8l4,-0.9M786.6,297l-2.9,1.8M839,320.6l4.9,-2.1M843.4,321.4l0.9,3.3M851.1,322.7l2,-2.4M822.7,302L814.5,258.5M818.2,278.5l-2.2,-2.1M818,277.4l-5,-0.9M817.2,273.1l-3.8,-3.1M815.9,266.1l-3.7,-3.2M815,261.4l-3.8,-2.6M803.1,289.2l2.1,-2.4M800.7,308l-2.3,-3.3M794.2,307.2l-3.7,3.6M782.9,303.1l-3,1.3M780.7,302.3l-0.3,-2.6M796.3,281.3l-3.6,0.2M786,260.5l-3.1,-1.1M821,312.2L862.8,309.2M842.7,310.6l3.9,1.5M848.1,310.2l2.4,1.8M857.8,311.2l3.5,4.3M834.6,303.9l3.7,3M836.9,302.7l0.8,-2.9M837,318l3.4,-2.5M850.3,318.4l3.3,-2.5M854.2,318.6l3.6,2.5M776.9,287.8l0.9,-4.9M781.8,310.1l-4.4,3M777.7,309l-1.7,2.3M781.4,307.8l-4,-3.4M775.5,306.9l-2.4,-3.9M770.7,299.6l-3.6,-3.9M799.3,279l-3.5,-1.9M840.5,316.4l3.3,-2M815.8,297.9l3.8,-1.2M795.8,294.2l-2.6,-0.2M786.8,285.1l-0.3,-3.5M823.7,269.9l3.1,-2.2M821.8,305.7L824.9,271.9M822.8,294.1l3.2,-1.1M823.2,289.9l-1.5,-4M824.6,274.9l2.6,-0.9M793.6,273.3l-3,-0.7M803,304.8l-4,0.5M799.6,302.8l-1.9,-3M789.8,296.9l-3.4,0.7M783.4,289l-2.3,-4.9M777.2,284.8l-4.9,-0.2M786.3,294.1l-3.2,0.6M784,292.9l-4.1,0.6M818,315.7L850.8,331.1M835.7,324l3.6,-1.7M830,294.7l2.7,-0.9M832.1,292.4l-1.1,-3.5M845.7,277.2l5.3,-0.9M813.8,307.9L766,269M790.2,288.8l0.6,-5.3M787.7,286.7l-4.7,0.3M826.8,285.5l3.7,-0.7M831.8,267.5l2.4,-2.4M792.6,315.2l-3.4,-0.4M833,314l3.8,-1.8M843.6,315.5l1.5,4.5M857.4,317.4l1.8,-2.1M811.4,297.3l1.5,-3M811.3,287.9l-2,-2.3M811.2,285.1l3.2,-3.6M803.5,304.6l0.4,-2.6M790.6,295.3l0.3,-4M826,296.2l0.1,-5.5M833.1,291l1.2,-4M839,320.9l1.6,1.9M866.6,327.9l3.8,-3.4M758.2,293.8l-1.2,-5.3M754.2,292.1l-0.7,-3.3M783.9,319.4l-0.9,2.8M805,313L772,320M785.7,317.1l-3.3,3.6M798.3,292.8l-1.5,-5.3M817.3,281.2l-1.7,-2M848.3,325.1l3.7,-2.7M834.9,303l3.9,2M838.9,300.9l2.1,1.8M842.4,299l1.2,-4.6M860,289.8l5.1,0.9M782.5,288.8l-3.6,-0.2M838.7,321.5l4.8,-0.6M829.6,311.4l2,2.3M835.4,311.1l3.8,-2.5M793.8,287.4l-3.5,-0.3M788.4,279.9l-2.5,0.2M785.9,276.2l2.5,-3.9M796.9,301.7l-4.8,-2.2M805,288.8l-0.1,-2.8M799,282.2l1.1,-4.1M804.2,317.5L774.6,322.5M814.3,291.9l4.1,-2.3M814.1,298l-2.6,-0.7M840.2,303.4l4.9,2.2M824,291.1l-2.8,-3.7M825.4,288.7l2.8,-0.5M827.9,284.4l5.5,-0M796.4,300.7l-4,-0.6M811.9,314.2L772.5,319.6M808.4,312.2L758.8,279.7M786.7,298l-3.9,2.9M803.1,311.8L768.2,307.4M782.6,309.2l-4.3,1.9M775.7,308.3l-3.4,2.4M769.4,307.5l-1.3,-3M781,303.8l-0.8,-3.6M757,297.2l-2,1.7M816.8,315.7L855.1,326.6M820.4,299.7l-1.3,-4M849.3,301.2l2.5,-2.5M860.8,298l2.3,-3.3M821.7,278.2l3.2,-2.9M816.7,293.1l2.1,-2.3M814.6,311.2L857.9,294.1M834,303.5l2.1,1.7M850.4,297.1l1.2,-4.8M783.7,320.7l-0.8,3.6M802.7,290.9l0.6,-3.2M815.6,283.1l-3,-0.4M799.5,321l-0.3,3.7M816.3,314.1L850.8,330.1M839.7,302.9l4,1.4M843.4,300.1l3.8,-0.2M778.9,311.1l-3.4,1.7M775.6,310.5l-2.6,1.8M813.6,280.8l2.1,-2.6M837.2,316.9l3.5,4M840,317l2.4,3.3M787.2,273.1l-3.1,-1M809.6,309.8L765.2,310.4M772.8,310.3l-3.7,3.7M834.3,268.6l4.8,-1.6M835.2,265.8l2.9,-1M830.7,318.2l3.3,3.5M783.4,284.7l-0.7,-3.6M782.5,283.5l-3.1,0.4M781,281.7l-0.8,-4.3M778.7,279l-0.3,-3M776.6,276.5l-3.3,-0.2M777,275.4l-3,0.4M846.3,272.3l4.7,1.1M849.5,268.9l4,-1.1M839.8,315.1l1.6,-2.1M849,317l3.8,-2.1M864.7,320.2l1.9,-2.1M836.6,294.7l4.9,0.5M839,291.5l-0.1,-3.2M848.3,318l2.4,2.8M868.1,322.3l1.5,2.1M808.1,302.8l-1,-3.3M805.6,301.4l-0.5,-3.7M828.1,312.5L857,324.6M793.3,294.1l-0.4,-3.7M843.1,318.4l3.6,3M871.2,323.1l1.5,2.8M806.9,276.7l-2.9,-0.7M826.1,267.9l3.9,-3.6M831,309.1L861.2,303.6M842.7,307l0.8,-4.5M790.2,317.2l-1.3,3.2M844.7,320l0.4,3.5M796.3,299l-2.8,-1.3M793.8,295.6l1.6,-3.5M787,264.8l1.2,-2.2M829.9,278.4l-1.6,-3.1M774,318.6l-3.3,-4.4M819.4,303.5L781.7,257.9M783.8,260.3l-2.8,-0.2M782.2,258.5l-2.6,0.3M851.8,328.3l1,5.3M853.4,329.4l2,3.9M846.8,327.6l3.3,-1.3M860.4,322.1l4.3,-2.4M806.2,273.8l1,-3.8M787.6,304.7l-0.6,-3.4M844.1,308.9l3.8,1.7M846,308.4l1.4,-2.9M836.6,300.7l4.8,1.1M856.8,305.4l4.6,2.5M783.1,291.9l-0.8,-3.2M810.7,299.8l-4.5,-2.8M809.9,297.7l2.9,-3.1M790.4,306.5l-1.9,-3.2M784.1,304.5l-4.9,0.7M760.2,296.9l-2.5,0.8M804.5,293.9l-2.5,-2.9M804.5,283.2l-4.2,-1.8M804.4,281.2l4.3,-1.8M804.4,277.6l-3.3,-1.5M821.8,265.5l4.4,-2.3M853.4,291.7l1.6,-3M808.5,303.5L818.4,266.5M818.1,267.7l3.7,-3.8M773.3,317.9l-2.3,3M779,305.9l-2.5,0.6M782.5,317.7l-2.1,-1.9M774.4,319.6l-4.6,-2.4M772.2,320.1l-2.4,-2.4M835.2,295.8l-1.1,-3.9M836.4,294.2l4.5,0.9M843.9,284.1l5.2,-1.7M814.8,284.4l4.1,-1.9M855.4,315.9l0.7,3.5M857,316.2l2.1,3.2M871.3,318.9l3.2,-3.2M797.9,306.4l-2.2,-1.8M783.4,304.8l-3,1.2M775.3,303.8l-2,-4.6M858,307.2l1.3,-3.2M861.1,306.4l0.6,-2.7M823.7,290.5l4.3,-0.8M779.6,309.1l-3.9,1.7M768.6,308.8l-1.7,4.1M766.1,308.7l-3,-3.3M770.4,312.3l-2.1,-3.9M842,303.3l1.5,-4.5M868,291.9l0.5,-2.7M872.1,290.2l0.7,-4.8M816.8,318.9L857.7,327.2M841.9,324l2.2,-2M850.7,325.7l2.4,1.8M801.8,266.9l0.9,-3.5M798.4,259.8l-2.6,-1.2M826.9,301.3l3.1,1.4M812.7,309L825.6,271.2M816.9,296.8l4.2,-2M818.3,292.5l2.6,-1.4M822.8,279.6l-2.1,-3.6M831.8,298.7l5,-0.2M837.1,295.8l2,-3.1M839.3,294.6l4.2,2.1M790.9,303.9l-2,2.2M836.6,284.2l3.4,-1M833.9,314.4l2,-2.1M845.3,316.5l2.8,-3.5M862.3,319.6l2.6,-1.9M869,320.8l2.3,2.1M807.1,291l-3.7,-3.1M828.1,287.6l-1.4,-4.7M833.4,280.5l3.1,-0.9M788.3,307.3l-1.1,-4.4M803.4,311.9L773.3,320.7M791.1,315.5l-3.6,-3.4M827.9,314.5L855.9,323.5M853.8,322.8l5.2,-0.7" stroke="#a3a06c" stroke-width="1.45" stroke-linecap="round" fill="none"/>
<path d="M789.5,293.3l-0.2,-3.1M783.7,290.1l-4.1,1.6M850.6,302.9l1.2,-4.5M875.1,294.2l4,1.8M789.9,308.1l-2.1,-5M783.3,319.6l-3.3,-1.2M843.1,294.6l3.8,0.4M795.8,279.8l1.1,-3.4M793.2,322.8l-0.1,3.6M803.6,288.1l-4.6,-2.3M769.1,325.5l-2.4,-2.9M775.8,326.3l-0.8,2.4M873,297.1l1.2,-3.4M807.3,315.7L777.7,326.7M789.7,322.2l-2.9,-1.1M785,324l-1.8,5.1M777.7,299.4l-0.7,-3.4M825.8,295.7l3.9,-0.5M827.2,294.4l4.2,1.3M829.7,312.9L869.9,308.1M863.4,308.9l2.1,2.5M829.8,279.9l4,-2.1M797.8,311.6l-1.3,2.4M794.9,311.5l-2.5,2.9M837.3,307.9l1.1,-4.4M785.5,316.2l-2.3,1.6M802.7,311L756.9,294.2M783.1,303.8l-4.2,2.8M777,301.6l-0.9,-4.9M763.3,296.5l-4.3,1.6M855,327.9l1.1,4M857.9,329.2l2.5,-1.3M811.8,310.2L766,286.2M778,292.5l-3.2,2.2M766.4,286.4l-0.6,-2.5M818.7,280.7l-4.6,-1M817,272.1l1.2,-2.2M782.5,302.7l-3.6,0.9M774,299.1l-4.6,2.9M800.2,268.9l-4.7,-1.7M803.6,308.8l-3.4,-3.2M798,307.3l-1.2,-4.5M780.1,297.8l-1,-2.3M806.8,311.8L775,300.3M797.1,282.8l-3.7,-1.7M793.3,275.2l-3,-1.6M790.8,270.1l1.5,-5.2M843.1,312.5l4.3,3M854.4,311.5l2.3,2.3M860.1,311l3.1,-3.3M880,309.1l2.9,-2M840.2,301.1l3.4,0.9M815.9,317.2L864.4,319M861.1,318.8l2.1,-4.4M862.7,318.9l1.9,4.6M791.4,298l-1.1,-4.2M786.4,294.5l-5.2,1.8M815.6,312.9L747.9,302.8M783.7,308.2l-2.1,3.5M756.5,304.1l-1.4,-4.3M748.4,302.9l-3.6,3M771.5,299.8l-4.4,1.7M826.7,290.5l2.4,-1.6M827.1,286.7l3.5,-2.4M802,293.1l-3.6,-3.9M798.6,275l-4.2,-0.8M848.4,318l2.7,-3.1M814.1,305.8L818.7,284.8M794.4,292.7l-2.8,-0.5M793,291.3l-3.7,0.3M819.6,311.5L852.4,321M819.9,284.3l-4,-3.8M821.9,276.8l3.6,-1.5M823.5,270.7l2.3,-1.1M823.8,283.8l-2.6,-3.1M824.2,279.1l3.2,-2.6M824.5,276.2l-2.9,-2.4M812,306.1L791.3,269.3M800.2,285.1l-5.2,0.7M857,327.7l1,4M823.4,286.9l2.5,-0.9M823.8,282.5l-2.2,-1.4M802.4,300.4l0.2,-3M847.2,329.5l3.8,-2.3M822.1,304L803.6,254.7M815.2,285.6l-2.7,-1M817.9,288.6l-5,-1M817.5,287.4l-2.5,-2.6M849.3,273.1l-0.4,-4.7M847.1,309.3l3.4,-2.4M791.2,289.5l-3.3,-0.7M825,292.2l3.5,-2.8M846,315.8l4.8,-1.8M818.9,305.2L818.4,286.1M818.8,299.4l-2.7,-3M818.5,289.7l1.6,-2.9M829.3,290.1l3.9,-2.7M811.3,292.4l1.7,-2.3M840.5,321.3l5.3,-1.3M855,325l4.2,-1.7M787.8,306l-1.3,-3.8M770.9,299l0.1,-3.5M776.8,319.9l-3.9,-3.1M772.3,314.6l-2.8,4.3M754.6,315.3l-2.9,-3.5M793.6,315.4l-3.7,-3.4M777.2,318.9l-2.3,3.5M797.2,291.9l-1.4,-2.9M779.5,278.1l-0.2,-5.3M776.2,275.6l-4.9,2.5M813.9,295.3l2.7,-2.3M818.6,276.2l3.7,-3M840.3,321.6l3.9,-3.1M843.4,323l2.6,-1.6M844.2,323.3l0.9,2.8M795.1,322.5l-3.4,-1.2M782.3,329l-1.2,3M846.8,296.7l0.5,-4M849.3,295.4l1.9,-2.8M854.9,292.5l4.9,1.8M855.5,329.4l3.8,-1.9M831.9,322.4l3,-2.2M851.2,329.4l4.6,-0.8M858.5,332l2.7,-0.9M827.5,316.5L861.3,331.6M847.9,325.6l3.9,-0.2M857.7,330l2.6,-1.3M845.6,310.6l3.2,4M801.7,298.5l0.7,-2.4M800.1,296.3l-5.1,1.2M850.8,321.2l-0.1,3.4M819.7,291.5l3.6,-1.3M825.9,274.2l-2.1,-1.8M815.3,297.9l-2.8,-3.8M813.2,285.8l-2.4,-2.1M838,303.9l3.7,2.4M847,301.7l3.7,1.8M833.2,275.2l-0.8,-3.4M792.8,296.8l1.7,-4.9M793.5,316.7l-3.2,-1.4M785.4,317.8l-1.5,-2M773.4,319.5l-2.2,2.1M774.2,289.8l-3.9,2M774.3,308.1l-2.4,-4.6M787.1,305.5l-0.8,-3.5M847.2,324.3l1.2,3.7M830.6,289.2l-0.5,-2.6M842.1,303.2l2.5,0.4M822,275.2l2.7,-4.2M823,294.4l3.1,0.3M798.7,285.5l-1.8,-1.9M797.2,277.9l-3.1,-0.9M801.8,314.8L770.9,324.9M778.4,322.5l-3.4,3.9M801.3,289.3l-0.8,-3.8M814.7,280.2l2.2,-2.3M845.3,327.5l2.5,3.1M843.9,299.6l-0.9,-3.4M861.4,312.9l2.5,-3.8M812.8,285.7l-1.8,-4.2M816.9,260.1l-1.3,-3.9M832.8,316.6l4,-3M796,286l0.5,-3.7M791.6,279.5l-2.2,-1.2M820.7,308.8L838.2,257.1M831.2,277.8l3.7,-2.2M835.8,264.1l-1.8,-4.3M836.7,261.4l-0.7,-3.4M837.3,259.8l-2.6,-2.7M798,287.7l-4.5,-0.7M793,296.1l1,-2.4M780.3,280.9l-3.7,-0.2M806.1,306.2L772.9,271.1M787.4,286.4l-2.4,1M775.7,274l1.3,-4.9M835.7,314.3l4.4,-1.5M854.5,318.1l4.9,-1.4M783.6,265.1l-2.8,0.3M805,291.6l-2.9,-2.2M803.2,288.1l-2.9,-1.5M800.2,282.2l-2.5,-0.6M832,301.2l-1.9,-3.5M833.4,299.2l5.3,1.2M805.9,293.6l-1.1,-4M847.2,317.7l2.8,-2.7M845.3,319.7l1,2.3M854.4,323.6l3.7,-1M800.2,304.7l-2.4,-1.1M797.6,300.7l-0.5,-4.9M797.2,300.1l1.7,-5M786.8,305.2l-2.1,-2.4M856.6,320.7l0.6,2.8M804.1,269l2.9,-4.2M825.4,275.1l2.8,-1M857.6,304.3l3.7,-3.4M859.7,303.9l0.8,-3M793.1,316.7l-2.3,2.6M858.1,323.6l1.8,2.3M802.3,307.3L784.5,282.9M790.8,291.4l-4,-1.6M795.5,283.1l0.2,-2.8M790.4,272l-5.3,-1M826.6,285.3l-0.2,-2.9M827.6,283.3l-0.1,-4.2M796.5,275.8l-4.2,-0.8M820.4,298.3l4.3,-1.7M821.8,288.6l2.6,-2.7M822.6,282.8l3.1,-2.6M822.2,313.2L878.1,301.5M846.8,308l4.6,1.3M873.8,302.4l1.6,-5.1M844.9,323.9l1.7,3.3M846.3,324.9l-0.1,5.2M850.6,327.5l0,2.7M836.6,321.6l1.3,4.2M823.2,288l-3.6,-3.1M838.7,318.2l1.8,2.3M845.2,319.3l1.1,4M781.1,309.2l-4.9,2.3M852.1,306.6l3.5,2.8M855.5,305.7l1.5,-2.9M781.2,290.3l-4.7,1.6M809.3,296.1l1.5,-2.5M785.9,305.1l-0.8,-2.8M804.5,295.7l-3.1,-2.3M804.5,289.4l-3.5,-1.9M804.5,287.3l-2.3,-2.9M834.2,295.4l3.6,1M838.6,291.3l4.8,-0.8M839.8,290.2l5,0.6M839.8,271.5l2.9,0M863.2,286.3l0.1,-2.6M867,284.2l1.6,-5.3M837.7,294.7l0.9,-3.6M839.2,293.8l-0.4,-2.6M812.3,289.4l-2.5,-4.4M813.3,285.5l-1.9,-4M816.6,273.3l3.1,-0.9M770.7,318.2l-2.1,-3.4M784.1,317.3l-3.7,3.7M837.5,292.7l3.6,0.9M840.1,289.2l3.6,0.6M854.3,270.1l-0.9,-2.9M775.4,292.4l-2.4,1.1M814.4,277.1l-4.5,-2M814.2,273.4l-1.9,-3.3M865.2,317.7l3.4,3.9M838.9,295.8l-0.2,-2.7M847.6,290.9l0.8,-2.4M774,321.8l-2.2,1.7M864.5,305.4l3.6,2.6M820.1,295.3l3.5,-1.7M775.2,309l-1.5,-3.4M785.7,313.2l-3.3,4M870.6,290.8l2,-4.8M789.5,320.7l-2.7,-3M811.3,287.1l-3.6,-0.4M809.3,283l-3.6,0.1M807.7,279.5l1.3,-2.4M806.4,276.7l-4,-0.3M845.4,304.6l3.1,1M854,300.8l0.8,-2.9M855.9,323.2l2,-2.1M863,325.3l0.7,3.7M823.7,277l-1.6,-2M842.6,292.8l2.7,0.1M793.2,304.3l-2.8,2.5M857.1,318.7l2.6,2.4M805.9,308.3L807.9,280.8M806.7,297.7l4.3,-1.6M825.9,290.4l-1.6,-3M783,305.9l-1,-3.3M842.3,305.5l0.5,-3.8M859.3,281.8l1.7,-4" stroke="#62652f" stroke-width="1.45" stroke-linecap="round" fill="none"/>
<path d="M811,272.8l-2.5,-2.4M809.3,262.8l-3.1,-1.9M801.1,299.7l-4.1,3.3M854,301.7l4.4,1M855.5,301.2l3.1,0.5M866.2,297.3l4.4,1.7M869.1,296.3l1.5,-2.2M780.9,308l-2.6,-1.3M779.3,307.9l-3.4,-4.2M790.9,318.5l-2.9,3.4M786.7,319.1l-2.8,-3.9M830.4,301l3.3,0.9M835.9,298.3l2.3,1.8M847.3,292.5l3.7,1.1M802.2,288.6l-0.7,-3.9M799.6,285.1l1.2,-4.9M788.5,324.6l-2.6,4.4M782.5,327l-3.6,-4.1M779.7,328.1l-2.1,4.8M784.5,315.3l-4,2.3M761.5,315.6l-4.3,2.1M802.2,277.8l-2.7,-2.5M776.1,323.2l-2.9,3.5M828.5,289.9l4.5,-0.8M834.7,267.7l3.6,-2.1M813.7,304.9L784.7,267.8M856.4,301.8l0.5,-3.6M868.4,298.4l3.8,1.8M792.7,299.6l-2.9,0.5M781.5,325.3l-0.7,3.4M865.9,308.6l1.3,-3.7M869.1,308.2l1.4,-2.2M784.8,316.3l-3,-4.3M851.6,326.4l1.7,2.2M853.2,327.1l2.6,-0.4M792.8,300.3l-2.9,2.1M852.4,322.9l2.4,-1.3M819.3,283.9l-3.4,-3M818.9,282.1l-2.1,-2.8M817.8,275.9l1.8,-3M759.2,292.7l-3.8,1.8M802.8,287.1l3.1,-2.8M784.3,303.5l-0.9,-5.2M777.3,301.6l-0.3,-3.4M800.7,290.2l-4.1,-2.1M789.1,266.7l0.2,-3.8M787.9,264.3l2.2,-2.8M839.7,310.8l1.3,-3.5M844.9,310.5l2,-2.3M833.6,317.8l2.5,4.1M807.5,309.4L774.3,286M790.9,297.7l0.6,-5.1M780.8,290.5l-2.7,-0.1M788.6,311.9l-3.3,-4.2M789.5,300.2l-4.7,1.8M790.8,309.2l-2.3,1.1M766.2,305.5l-3.6,3.9M789.7,305.3l-3.7,2.3M780.6,302.6l-2.5,3.2M827.6,282.2l-2.1,-3.3M816.1,311.4L859.2,320.1M782.6,280.9l-3.5,-0.9M823,272.6l3.7,-1.9M803.1,290.3l-0.2,-3.8M801.6,304l-1,-2.4M795.2,300.2l-4.1,3.3M845.1,322.5l2.6,-1.9M822.7,293.1l-2.2,-2.7M823.5,285.5l-2,-4.5M785.5,290.4l-3.9,2.2M781.5,287.7l-4.8,0.9M801.2,298.5l-4.2,-0.5M797.9,293.5l-5.3,-1M794.4,288l-0.5,-5.3M790.8,296.5l-2.5,1.9M788.1,295l-3.4,0.9M781.6,291.6l-2.7,1.4M831.7,322.2l2.4,4.5M833.6,323.1l4.9,-0.9M811.3,275.3l2.3,-3.9M816.9,285.2l2.6,-3.1M815.2,279.2l-3.6,-3.9M841.1,282.3l-0.3,-4.3M840.6,310.4l2.2,-3M842.7,310l3.8,2M853.7,308.2l2.8,2.9M857.3,307.6l1.6,-4.7M872,305.2l3.2,2.2M784.5,284.1l-3.1,1.8M774.4,275.9l-4.3,1.7M766.7,269.6l-3.7,-0.9M826,288.7l-1.7,-2M827.5,283.2l2.3,-1.3M830.3,272.9l-0.9,-5M790.8,315.9l-2.9,-1.5M790.4,316.1l-4.3,-1.2M835,314.3l1.5,4M825.4,306.6L832.7,275.6M830.4,285.4l2.5,-0.6M831.6,280.3l3.6,-1.5M797,299.9l-2.6,0.9M794,297.8l-4.2,-0.6M792.5,296.7l-3.9,0.7M789.9,294.8l0.6,-3.5M767,297.4l-0.5,-5.2M770.9,320.4l-2.1,-4.5M761.7,321.1l-3.8,-2.8M780.1,314.2l-2.7,-4.1M759.8,315.1l-2.4,4.1M790.3,316.1l-1.5,5.3M793.7,289.2l-5.2,0.5M810.9,307.6L819.2,273.6M818.9,274.7l-1.3,-5.3M829.9,317.2L849.8,325.7M851,294.5l-0.5,-4.4M835.1,307.3l0.5,-2.8M847.8,300.2l-0.1,-3.9M778.5,285.4l-4.9,0.9M776.7,283.9l1.1,-4M776.3,283.6l-0.5,-5.1M770.5,278.6l0.6,-3.9M837.6,321.7l4.4,-2.4M851.5,327.7l0.9,3.8M816,316.7L862.8,333.5M850.3,329.1l2,3.6M861.2,333l1.8,-1.9M860.5,331.2l4.3,-2.1M816.3,312.2L856.2,310M852.7,310.2l1.5,3.2M854.8,310l1.5,-2.5M795.3,299.8l-4.3,-0.7M806.5,290.5l-4.6,1.7M844.5,318.2l3.8,-1.3M846.7,319.3l1.9,-1.9M858.7,324.9l0.8,3.8M821,287.7l-1,-2.4M822.7,283.2l-2,-3.7M791.3,319.7l-3.3,-2.8M787.2,320.4l-2.9,-1.1M815.2,297.3l3.5,-4.2M813.9,289.9l1.3,-3.6M810.9,291l-3.7,-1.9M809.1,287.1l2.5,-3.4M854.3,299.9l3.2,4.1M822,294.7l-3.1,-3.9M830.6,279.7l-1.6,-2.3M789.8,293.6l2.3,-5M761.4,281.4l-2.7,-4.5M772.9,307.9l-3.5,1.4M831.1,319.8l1.5,3.9M840.1,322.3l3.1,-2.9M842.6,323l3.2,-0.9M820.6,288.6l-1.8,-4M821.4,281.5l-3.5,-1.9M824.9,292l3.9,-0.5M801.3,297.9l1.5,-2.8M800.3,293.2l4.1,-2.8M797.9,281.6l-2.9,-1M845.6,298.9l3,3M855.4,295.1l4.7,1.2M781.9,321.3l-1.3,2.4M820,296.9l1,-3.6M788.4,324.6l-3.3,-3.1M831.8,321.3l2.5,3.2M837.6,304.6l1.4,-4.4M841.7,301.4l-0.8,-3.4M842,311.5l2.2,3.8M813.9,279l-2.2,-2.2M815.7,267.5l-1.5,-3.5M848.3,317.6l2.7,3.4M793,281.6l-2.7,-1.1M788.6,275l-0.4,-3.3M795.3,310l-1.6,-2.6M784.1,310.2l-2.2,-3.5M780.3,310.2l-1.5,4M776.1,310.3l-2.2,-4.9M802.1,295.5l0.5,-2.9M797,285.8l-3.3,-2.4M791.4,275.1l0.5,-4.9M791,293.7l1.7,-3.9M786.8,288.7l0,-5.3M783.4,282.3l1.3,-4.7M779.9,278.5l-1.4,-5M837.8,281.3l2.5,0.8M843.5,275.2l3.9,-0.9M849.8,268.6l2.5,0.1M799.1,283.8l0.3,-3.7M790.4,273.4l-1,-3.9M780.4,261.3l-0.2,-3.1M838.1,292.7l2.9,-0.5M812.6,298.3l-0,-3.7M799.8,289.4l-3.5,1.4M864.8,321.6l3.3,-3.1M803.8,300.3l0.5,-4M851.6,322.4l2.8,3.8M803.9,310.4L792,292.2M788.1,305.4l-2.4,-2.5M780.8,304.5l-3.3,-3.2M844.6,318.6l2.5,-1.8M846.6,319l1.8,2M848.3,319.3l2.6,-1M816.7,303.5L801.8,262.7M806.2,274.8l0.4,-4.4M802.4,264.3l1,-2.5M824.5,284.7l3.3,-1.7M845.2,306.5l2.3,2.4M847.7,306.1l3.2,-2.9M849.1,305.8l4.1,2.7M856.1,304.5l3.1,1.2M850.9,321.7l3.7,-2.2M851.9,321.9l2.4,3.2M792.8,294.2l1,-4.8M786.6,285.8l-5.2,0.9M791.1,273.6l-2.3,-1.7M785.3,261.3l2.1,-2.9M824.6,289.5l5,-2.1M784.5,261.2l1.2,-2.4M864,304.4l2.2,2.9M857,331.7l3.2,-1.5M845.4,326.8l4.9,-1.6M835.9,317.7l1.7,-1.8M850.3,320.3l2.4,4.1M852.7,320.7l4.2,-1.4M807.4,277l-3.6,-0.8M806.8,275.6l2.5,-3.8M769.2,306.4l-4.3,1.8M768.1,306.1l-2.4,1.5M831.2,304.1l1.2,-2.4M839,299.3l-0.4,-3.8M792.5,299.9l0.4,-5M788.9,296.9l-1,-2.8M809.4,296.2l2.1,-1.9M808.5,293.9l-3.9,-0.2M808.1,292.9l1.9,-2.6M777.7,302.5l-2.3,-4.9M774,301.3l-4.2,1.8M766.1,298.8l-0.8,-3.2M804.5,285.7l-4.7,-2.7M813.3,292.9l-1.7,-1.8M819.4,273.1l3,-2.8M838.3,275.5l3.4,-0.5M841.3,267.6l-1.3,-2.7M842.1,265.5l3.6,-1.8M842.5,297.7l3.5,3M844.8,296.4l3.1,2.6M847.9,294.7l2.9,1.1M831.2,298.6l4.3,-0.1M779.9,318.3l-1.2,2.7M770.3,320.6l-2.4,3.9M763,322.3l-1.1,2.6M840.2,289.1l-0.3,-2.5M802.1,301.2l-2.9,-3.2M815.5,295.5l-2.4,-4.3M815.2,290.5l-3.2,-3.2M815,286.6l-2.8,-1.3M814.9,286.1l3.5,-1.9M841.3,313.3l2.6,-1.4M852.7,315.4l1,4.9M863.6,317.4l1.6,4.3M830.3,300.7l3.2,-0.1M845.9,291.8l3.3,0.8M788.8,322.6l-0.5,4.8M767.4,334.1l-4.2,-2.2M802.8,319l-2.8,3.1M779.8,321.2l-2.1,-2M788.1,309.4l-2.3,-3.8M851.3,299.2l2,2M794,319.4l-4.5,-1.9M805.2,274.2l-4.2,-1.2M804.9,273.6l1.5,-3.3M797.5,257.9l1,-4.2M826.6,301.5l4.7,1.3M836.2,295.4l-1,-4.8M825.7,313.3L879.7,289.5M874.2,292l5,0.7M849.3,321.2l4.3,-1.7M855.1,322.9l1.1,4.2M858,323.8l4.3,-2.7M871.2,327.6l2.6,-0.7M821.2,284.3l-1.6,-4M841.1,293.6l0.8,-2.5M795,304.6l-3.1,3.6M789.6,303.7l-2.5,2M807.8,281.3l2,-1.5M836.5,317.3l3.3,-1.2M846.1,320.4l2.8,-2.8" stroke="#b8b284" stroke-width="1.45" stroke-linecap="round" fill="none"/>
<path d="M813,284l2.4,-1.5M811.3,274.2l1.9,-3.1M810.7,271.1l-2.9,-4M810.5,270.1l-2.7,-2.7M785.6,291.2l-1,-3.1M781.1,288.7l-0.8,-2.7M779,287.6l0.6,-4.4M829.8,310.3L877.5,293.3M863.2,298.4l2.1,-4.1M777.6,307.9l-2.5,2M855.3,288.4l2.8,1.2M797.2,281.8l1.7,-2.6M792.4,275.2l1.7,-2.7M794,322.5l-2.4,4.1M788,315.2l-2.6,-2.8M805.8,304.3L799.6,258.2M802.8,282.3l4,-2.6M801.8,274.8l-4.7,-1.3M788.9,319.2l-3.2,-2.3M778.6,322.5l-3.8,-4M762.4,327.6l-3.6,3.5M761,328l-1.7,4.7M790.5,321.8l-2.3,4.2M828.3,290.4l-2.6,-2.5M828.9,288.4l4.7,-2.5M831.4,279.7l4.1,-3.4M800.7,288.2l1.5,-3.7M799.9,287.3l1.1,-3.1M799,286.1l-5,0.9M797,283.5l-0.1,-2.8M788.5,272.7l-4.6,1.3M848.5,304l0.5,-4.8M849.9,303.6l2.1,-5.1M853.6,302.6l2.6,2.6M862.1,300.2l1.5,2.1M788.6,302.7l-3,-3.8M766.5,296.1l-2,2.4M754.4,292.4l-4.4,2M832.3,289.3l3.3,0.6M820.4,297.4l3.6,-1.9M823.6,285.2l-1.9,-2.3M824.2,283.2l-1.8,-4.7M825.3,279l2.3,-1.9M831,276.1l3.6,-1M834.9,263.8l-3,-4.1M773.3,310.5l-4.5,-2.7M846.1,306l2.8,3.5M799.4,314.1l-2.7,-2.3M774.1,300.5l-2.8,0.4M771.5,299.6l-3.6,3.7M769.9,299l-4.1,2.2M769.3,298.7l-1.2,-2.5M760.7,295.6l-1.3,-2.3M842.7,322.5l1.4,3M847,324.4l2.5,-1.4M849.4,325.4l0.7,4.2M769.4,288l-1.4,-4.5M846.3,321.9l3.7,-2.3M820.1,288.5l2.8,-3.1M819.7,286.5l4,-3.3M816.3,268.3l-2.2,-2M784.6,303.6l-2.3,2.4M774.9,299.5l-1.6,-5M803.4,291.4l-3.2,-1.1M802.9,287.5l-3.8,-2.7M801.3,276.9l-2.7,-2.2M800.5,271l-3.3,-3M785.5,299.9l-4.7,1.2M785.6,304.1l-2.9,3.4M775.4,300.4l-2.2,1.2M848.5,312l1.5,-5M836,303.2l-0.2,-2.7M785.4,293.8l-4.1,1.4M778.2,288.7l-1.6,-2.9M779.1,309.4l-4.7,1.9M797.6,304.2l-3.1,1.9M784.4,297.7l-2.7,-3.9M793.9,309.7l-4.5,3M758.1,304.3l-1.8,2.3M799.1,308.1L768.1,298.8M782.9,303.3l-1,-2.4M827.8,280.4l2.9,-1.6M829.1,268.7l3.1,-3.4M829.6,264.5l-2.5,-4.6M830.4,257.6l-2.3,-4.9M801.5,290.5l3.4,-4M800.4,284.4l2.4,-2M798.9,276.8l2.4,-1.7M843,316.9l1,2.8M816.9,293.2l4.9,-0.9M817.8,288.9l3.1,-2.7M798.5,296.9l-4.4,-1.4M783.9,282.2l-4.8,0.2M831.2,314.9l4.3,-2.5M843.1,318.3l3.8,-2M821,280.4l-1.9,-3.9M825.8,262.1l-2.2,-2.9M823.1,291.9l-4.6,-2.5M802.1,288.5l-3.7,-1.8M797.1,279.5l1.7,-3.2M795.4,276.5l-4.6,-2.8M794.5,275l-3.4,-1.2M840.4,320.4l-0.1,3.5M842.9,321.5l3.5,-0.6M809.4,306.5L768.4,278.9M774.5,283l-4,2.6M798.3,294.1l2.3,-4.7M817.5,310.6L773.4,287.3M813.4,280.8l1.8,-2.1M812.1,277.3l2.2,-3.4M808,266.5l-3.9,-3.5M813.1,272.1l-4.2,-2.1M832.5,291.9l4.7,-0.3M835.1,289l3.6,0.8M836.1,288l3,-0M838.5,285.2l3.3,-1.3M848.3,309.1l1.8,-2.2M828.8,278.6l2.9,-1.2M787.7,317.2l-3.5,3.9M782.6,319.3l0.1,3.1M867.7,318.8l2.6,-0.9M818.7,296.1l-1.9,-3.3M828.2,294.6l3.3,-2.3M830.4,293l5.4,-0.5M834.9,289.7l5,0.4M784.3,304.5l-1.7,-3.5M764.2,296.2l-3.8,2.7M790.8,318.9l-1.8,2.6M765.3,320.8l-2.5,-2.2M763.4,314.9l-4.3,-1.8M775.7,319.2l-3.4,2.8M785.2,282.6l-0.2,-4.1M816.2,285.7l-1.9,-4.3M816.6,284.2l-1.5,-2.2M826.7,312.1L852.7,297.4M784.8,290.8l-3.6,-0.7M770.9,278.9l-1.4,-4M838.3,322l1.8,3.8M839.9,322.7l0.7,3.1M841.5,323.4l2.5,-2.3M850.5,326.7l3.2,-1.2M834.9,311.2l2.1,-2.1M841.9,310.8l2.6,2.4M792,284.9l-5.3,0.2M791.1,294.8l-4.9,0.8M790.2,293.8l-3,0.5M810.2,294.6l-4.3,-0.6M808.7,293l-4.1,-1.2M797.9,281l2,-4.8M853.8,322.6l1.8,3.4M827.2,270.9l-3.9,-3.4M785.4,320.7l-2.7,-2.3M810.1,289.2l1.5,-4.5M848.6,301.3l3.4,4M786.6,309.7l-2.6,2.4M782.8,304.4l-2.9,-3.8M775.5,302.3l-2.9,2.4M771.3,301.2l-2.4,2.5M762.4,298.7l-4.8,1.5M827.1,292.8l4.8,-0.5M854,299.9l2.4,1M821.9,276.2l2.7,-2.6M816.6,293.5l-3.5,-2.9M820.1,298.2l-0.3,-4.4M828.8,305.6l3.8,1.4M836.6,302.5l4.7,1.5M792.1,318l-3.4,-0.9M808.1,296.9l0.9,-4.9M804,292.3l-5.2,-0M818,290.7l2.1,-4.9M816.5,286l2.5,-3.5M816.2,284.9l-2.7,-1.2M785.8,325.5l-1.9,3M776,328.6l-0.9,3M761,308l-2.7,-3.5M843.5,311.6l1.9,2.2M862.9,313l2,-2.6M874.6,313.8l0.9,3M815.3,269.9l-2,-2.7M816.8,260.7l-3.2,-2.5M786.8,310.1l-3,-1.6M826.1,292.8l3.4,-0.5M832,275.5l-2.4,-4.1M848.2,323l2.2,-1.4M790.1,289.3l-3.5,-0.1M832.7,286.6l4.1,1.1M835.3,283.9l3.6,-0.5M791.6,274.8l-2.8,0.6M787.3,269.5l-3.5,-0.4M779,259.6l-0.5,-4.2M812.5,306.2L793.2,268.8M804.2,290.1l-0,-3.7M801.6,285l-2.9,-0.8M828.6,306L839.1,291.3M810.1,296.6l-3.5,0.7M821.6,312.1L871.2,323M863.9,321.4l2.1,-1.8M802,299.2l-0.9,-5.1M800.4,298.3l0.4,-3.4M794,295.2l1.9,-5M785.3,305.1l-2.5,1.6M857.2,320.8l4.4,-1.4M861.3,321.4l2.9,-1.5M863.8,321.9l2.4,4.4M865.7,322.2l4,-3M807.7,279l-2.4,-1.2M804.9,271.3l-3,-0.3M823.9,290.3l3.7,-3M824.8,281.6l2.6,-1.6M825.4,275.4l-2.2,-1.6M853.7,305l2.3,2.9M801.2,315.2L778.9,319.3M791.7,317l-1.6,3.4M843,319.5l1.9,3.5M854.5,322.6l5.1,-1.1M799.3,291.3l2.2,-3.7M789.8,270.8l-3,-2.5M787.8,266.6l2.3,-2.4M822.4,294l2.8,-0M833.6,270.7l-1.6,-2.7M779.7,317.9l-3.2,-2.4M805.8,287.1l0.8,-4.8M820.9,295l3.9,-1.1M839.9,309.5l2.9,-2.6M844.8,308.5l2.9,2.1M852.9,306.8l2.5,2.8M865.4,304.2l1.9,-4.5M849.4,326.8l-0.9,4.7M855.8,330.9l4.4,-0.2M862,334.8l0.3,4M851.2,330.1l1.1,5.1M822.5,292.1l-2.2,-4.7M832.8,317.1l1.4,2.6M811.2,286.7l1.1,-3.6M810,283.6l1.6,-2.3M805.7,272.7l-3.7,-3M778.4,308.5l-2.5,0.8M801.8,310.5L773.3,298.8M793.1,306.9l-0.2,-3.1M776.6,300.2l-3.1,3.2M847.7,307.8l2.2,-3.1M786.5,294.8l-2.8,-0.3M776.5,286.3l0.2,-3.9M807.9,286.4l-2.9,-1.1M807.6,284.4l4.1,-3.2M830.4,298.9l-1.2,-3.9M841.9,288.2l2.9,0.9M837.4,277.6l5.3,-0.7M838.9,273.9l-3,-3.5M839.4,272.7l3.1,-0.4M821.4,309.4L867.4,284M835.7,301.5l0.7,-4.9M837.7,300.4l4.5,0.5M850.9,293.1l2.1,-4.1M815.5,277.2l5,-0.8M817.9,268.3l-1.2,-3M783.4,316.4l-4.1,3.2M772.1,318l-1.5,2.5M767.6,318.7l-1.2,2.7M782.2,306.8l-1,-3.4M780,318.2l-1,3.7M777.5,318.9l-2.7,-3M763.9,322.1l-4,-1.1M838.3,291.7l-1,-3.1M771.9,291.3l-0.2,-2.9M848,314.5l1.7,3.4M861.7,317.1l2,-3.1M829,301.5l1.8,-5.1M834.6,298.3l3.5,1M778.7,328l-3.7,-1.6M797.3,319.5l-0.8,3.2M789.5,320.3l-2.2,-1.4M785.8,320.6l-3,2.7M783.8,320.8l-2.3,1.7M782.9,320.9l-2,-4.1M787.4,305.2l-3.4,4.2M786.6,305.1l-2.1,1.7M778.5,304.2l-2.5,-2.7M812,306L828.1,284.5M806.3,310.1L760.5,308.5M783.5,309.3l-3.1,3M772.7,308.9l-4.3,2.1M791.4,313.6l-1.8,-2M790.5,313.5l-2.2,-3M763.6,311.9l-2,1.9M761.8,311.8l-3.4,4.2M846.1,301.5l3.5,2.8M813.5,313.6L770.2,326.5M808,308.7L792.6,295.5M800.2,302.1l-3.6,-0.4M798.8,300.9l-3.2,-0.2M796.8,299.1l-2.5,-0.4M793.1,295.9l-5,2M810.1,284.5l-3,-1.8M808.1,280.2l-3.2,-1.4M796,254.5l2.8,-3M815.5,308.4L836.6,295.2M833.8,297l1.1,-4.2M866.2,295.5l2.7,2.1M872.6,328l0.7,3.5M817.7,294.2l4.5,-0.7M822.3,281l-3.1,-4M809.3,307L787.9,303.4M841.7,277.5l4,-1.6M806.9,295l-2.3,-1.6M807.7,283.3l1.5,-2.7M826.5,289.6l4.2,0.7M828.8,286.5l3.1,-0.8M831.8,282.6l4.6,-2.4M838.1,274.1l4.9,-1.5M838.3,274l-1.3,-2.5M843.6,266.8l5.3,0.5M794.6,308.9l-4,1.7M791,308l-0.8,-4.2M779.8,305.1l-4,3.7M824.7,310l0.6,-2.7M832.4,308.1l3.3,-3.2M844.5,319.9l1,2.8M851.9,322.2l0.4,3M838.8,292.3l0.4,-2.5" stroke="#858650" stroke-width="1.45" stroke-linecap="round" fill="none"/>
<path d="M814.3,291.8l-2.7,-1.3M795.2,296.4l-4.1,0.5M852.4,302.3l2.4,1M868.3,296.6l2.5,1.7M785.1,308l-2.9,-3.3M794.6,318l-2.2,3.7M789.1,318.8l-2.6,-1.2M788,318.9l-3,-1M781.5,319.8l-1.5,4.2M839.3,296.5l-0,-3M846.3,293l1.5,-5.2M849.6,291.3l1.9,-3.6M853.1,289.5l5.2,1.5M804.3,291.4l-3.9,-1.2M776,329.5l-0.5,4.5M773.9,330.3l-1.6,4.2M781.7,315.3l-3.5,1.8M779.5,315.4l-2.3,1.5M777.9,315.4l-4.6,2.9M801.7,274.1l2.2,-1.2M781.6,321.5l-0.4,2.5M773.3,324.1l-2.8,-1.1M793.8,320.7l-0.3,3.1M785.5,323.3l-0.9,2.8M832.3,276.4l3.8,-0.6M793.7,279.3l-2.8,0.6M804.3,308.1L780,290.3M787.5,323.1l-2.4,3.1M823.2,286.9l-2.5,-3.4M831.5,274.3l4.4,-1.9M781.7,310.9l-4.1,-3.3M768.3,310.2l-1.5,-3.6M839.8,307.4l2.4,-2.3M785.4,304.7l-1.6,-4.8M829.4,316.6L867.9,333.6M856.6,328.6l1.8,4M773.2,290l-5,1.2M817.7,316.9L856.3,323.6M837.5,320.3l2.7,-1.6M777,300.3l-2.8,1.1M764.8,295.1l-1.2,-2.3M799.6,264.8l-4.2,-3M815.6,312.1L776.4,301.3M794.6,306.3l-2.7,1.4M790.8,305.3l-1.2,-5.2M780,302.3l-2.9,2.7M775.1,295.7l-3.6,-4M840.7,310.8l2.7,2.4M872.4,309.8l1.9,2.8M875.8,309.5l2.2,1.2M826.5,307.8L842.3,300.1M832.5,304.9l2.9,0.9M846.7,318.3l2.9,4.2M781.6,291.1l-0.7,-3.2M777.1,308.8l-2.2,-2.3M794.5,302.6l-0.5,-5.2M772.6,306.5l-2.4,3.8M828.3,276.4l-2.9,-1.9M828.9,270.6l-3.7,-3.4M830.5,256.2l-2.1,-1.9M801.9,292.5l-4.5,-1.6M801.3,289.2l-1.6,-2M851,318.5l2.1,-3M855.2,319.3l2.3,-2.6M790.6,289l-3.7,1M782.4,280.7l-4.2,-1.1M832.5,315.3l2.8,-0.9M834.6,315.9l3.4,-3.4M849.4,320.1l2.1,3M804.8,293.3l1.1,-3.6M792.8,271.9l0.3,-4.4M771.9,281.2l0.4,-4.8M774.3,287.8l-0.6,-2.7M829.4,321.1l3.6,-0.4M837.7,325l1.5,2.7M839.6,325.9l1.9,3.9M841.2,326.6l0.3,5.1M845.7,328.8l-0.3,5.5M816.1,287.9l1.4,-4.3M809.6,270.7l3.4,-3.7M806.7,263l-3.9,-0.9M805.5,259.9l1.3,-2.2M804.6,257.6l-3.4,-0.1M827.5,297.5l-0.7,-4.2M837.1,311l3.5,1.9M850.9,308.7l3.6,2.8M855.8,307.9l2.7,-4M861,307l2.4,-3.8M863.4,306.6l1.1,-3M782.6,282.6l-1.3,-4.7M829.7,275.1l3.5,-4.1M850.8,316.5l2.5,-1.4M861.5,318l4.3,-3.3M818.5,288.7l-4.7,-1.9M828.9,291.7l-2.1,-2.4M811.5,308.8L811.2,284.2M835.3,289.4l3.7,1.9M774.9,300.7l-2.6,1.6M813.5,317.1L760.6,321.2M778.1,314.3l-2,2.2M784.5,282l-3.8,0M818.1,278l-2.1,-5M802.2,319L781,329.6M782.5,328.8l-2.5,-0.8M835.8,302.5l3.3,1.2M840.4,300.1l2.1,1.4M861.6,289l3.1,0.7M842,303.5l3.9,1.9M844.1,302.3l4.7,2.7M789.8,295.1l-0.6,-3.7M781.5,288l0.1,-2.6M780.3,287l0.5,-3M773.3,280.9l-3.1,0.2M846.5,325.5l0.7,4.3M849.4,326.8l1,2.3M846.8,327.8l1.5,4.8M840.4,322.2l2.4,-1.9M854.7,328.6l0.4,3.3M850.8,310.3l3,-4.5M793.8,298l0.4,-5.1M802.9,286.6l-3.3,0.4M787.9,320.3l-2.1,2.7M775.8,322.3l-3.4,-2.4M812.5,294.6l3.3,-3.7M842.7,302.8l2.8,-3.6M828.6,283.2l4,-1.1M832.5,276.3l-2.1,-3.3M791.1,295l-3.9,0.5M781.4,318.4l-2.4,2.8M779.1,293l-4.1,0.8M763.2,282.6l-4.8,1.7M829,319.2l2.1,4.1M836.5,321.3l0.8,5.3M848.6,324.7l1.4,2.3M813.9,306.5L833.9,285.8M823.1,296.9l-0.7,-3.4M821,284.9l4.8,-1.6M831.6,304.5l1.1,-3.7M804.1,292.5l1,-2.6M814.2,278.8l-4.5,-3.1M794.3,322.7l-0.8,5.4M848.6,329l4.6,-0.3M838.2,304.1l-1.1,-4.1M801.4,315L759.7,307.8M866.5,313.3l3.3,-1.9M867.6,313.3l3.4,-2.9M873,313.7l2.5,-1.8M814.5,275.2l1.7,-2.4M815.9,266.1l3.4,-3.8M843,317.2l1.2,2.5M794.5,283.8l-0.2,-3.4M839.5,320.6l2.8,2.6M788.7,291l-4.8,0.9M841.5,315.5l2.4,-0.7M802,287.4l-5.1,1.1M835,297l-1.5,-4.7M840.8,316.3l4.5,-1.4M855.8,319.6l2.2,2.1M795.3,295.2l-0.9,-5M793.6,294.1l0.1,-3.6M798.9,302.7l-4.4,-1.6M827.5,315.8L874,323.6M868.8,322.7l2.2,2.7M809,282.3l-4.4,-1M802.6,264.8l0.5,-5.4M825.1,278.3l2.1,-2.5M825.7,272.5l4.5,-2M843.9,306.8l2.6,1.5M850.6,305.5l4.2,3.4M788.7,317.5l-2.6,3.2M840.3,318.8l1.4,4.2M785.3,284l-4.4,-1.2M798.3,289.1l2.2,-3.2M792.1,275.8l1.5,-2.6M788.5,268l-2.9,-1.7M821.8,295.4l-1.3,-5.3M827.9,282.7l4.5,-1.9M796.2,316l-2.7,-1.5M794.7,316.2l-1.4,-2.1M785.4,317.3l-3.2,3.2M781,317.8l-2.8,4.6M820.2,299.7l-1.7,-4.4M849.5,307.5l2.3,2.3M849.1,328.9l-0.5,5.2M840.3,318.4l1.9,2.5M858.7,321.8l2.1,1.7M791.7,306.3l-1.7,-3.5M782.9,302.7l-0.2,-2.7M835.8,301.2l-0.7,-3.9M840.4,298.4l1,-3.2M846.3,294.7l4.7,2.6M851.1,306.9l3.1,-4M790.5,298.2l-4.7,0.9M785.2,293.6l-0.5,-5.4M809,295.6l-3.6,-2.7M808.8,294.2l-4.6,-1.6M808.1,288.2l2.3,-2.4M778.6,302.8l-2.8,1.7M804.6,305.7L804.4,273.9M804.4,275.9l-2.2,-3.1M831.8,297.6l3.5,0.1M834.8,294.8l2.7,0.8M836.2,293.5l3.4,0.6M845.2,285.1l1.4,-5M817.3,279.7l2.5,-2.2M818.2,276.9l4.3,-1.4M834.2,286.1l-0.7,-4.4M835.4,283.1l-0.8,-2.7M855.6,290.5l-0.7,-5M859.6,288.3l2.9,1.1M834.3,296.7l3.7,2.6M813.5,284.9l-1.3,-4.2M814.9,279.4l-2.7,-4.7M815.7,276.5l3,-0.8M786.3,316l-1.8,5.2M784.6,316.2l-3.2,-3.4M780.1,316.9l-1,3.7M798.5,311.3L774.7,304.7M845.3,282.2l4.2,-2.1M796.6,299.4l-2.9,1.4M781.6,294.4l-3.8,-3.7M860,316.7l3.8,-1.4M868.9,318.4l3.7,3.9M852.6,288l-0.1,-3.6M773.6,330.7l-1.1,2.7M772.8,303.6l-1.1,-3M842.4,311.6l3.2,1M847.3,310.2l2,-2.8M790.3,309.5l-2.3,1.8M795.7,313.8l-3.3,-3M787.1,313.3l-1.9,-3.1M843.6,302.6l0.7,-4.5M850.4,299.6l3.2,1.3M855.7,297.3l-0.1,-4.1M861.6,294.7l3.7,2.8M798.1,318.2l-1.3,2.4M771.3,326.2l-0.7,3.8M803.1,304.6l-4.8,0.2M845.5,324.7l3.1,2.9M853.6,326.3l2.9,4.4M821.4,308.6L795,252.5M801.3,265.9l-4.6,-2.9M799.9,263l-4,-0.9M799.5,262.1l-3,-2M823.1,303.7l-0.3,-3.3M829.8,299.4l-0.3,-4M852.1,301.7l0.1,-5M855.8,300l0.3,-4.5M845.3,320.1l2.1,3.9M819.7,288.6l2.4,-2.2M826.8,296.9l5.1,-1.9M828,295.2l4.7,1.1M837.6,282.8l5.2,-1.8M843.8,274.7l-1.9,-3.2M814.2,310.8L877,322.3M855.2,318.3l3.9,-3.3M806.6,299.2l2.3,-0.9M807.1,292.2l2.5,-1.4M812.2,308.7L844.9,265.1M823.8,293.3l4.3,-1.8M831.1,283.5l5.3,0.3M798.1,309.8l-1.9,-2.7M770.4,302.7l-3.1,1.8M827.1,309.4l2.9,-4.3M835.4,307.3l2.1,1.4M789.6,315.9l-0.8,3.7M781.7,318.2l-2.5,-2.1M840.4,318.5l3.2,-1.3M812.3,305.9L859.9,281.5M831.3,296.2l1.9,-3.9M849.3,286.9l1.8,-4.7" stroke="#96955f" stroke-width="1.45" stroke-linecap="round" fill="none"/>
<path d="M791.9,294.6l-5.3,0.8M857.1,300.6l0.8,-3.3M864.4,298l4.4,3.1M802.8,308.3L777.2,307.9M792.9,318.3l-2.4,-2.9M837.8,297.3l3.5,0M857.8,287.2l2,-3.3M859.5,286.3l2.3,-4.2M805.7,293.3l2.4,-4.6M804.7,291.9l-2.9,-1.2M800.3,286l-4.8,-2.2M798.6,283.6l-4.3,-2.3M793.6,276.8l-5,-2.1M787.4,325.1l-0.1,3.2M774.7,315.4l-3,-2.1M772.8,315.5l-1.9,1.9M771.1,315.5l-2.8,3.9M791.4,321.5l-1,4.3M784,323.8l-2.9,-1.1M832.7,275l-3.8,-3.4M834.2,269.5l-1.9,-4.6M796,282.3l0.2,-4.6M828.6,309.6L878.5,295.6M851.9,303l4.9,2.4M857.6,301.4l1,-2.3M864.5,299.5l1.8,2.1M876.2,296.2l2.6,-3.6M785.4,294.3l-2.2,-4.9M792.9,321l-0.2,3.1M782.2,325l-2.4,4.4M795.3,304.8l-1.2,-5.2M768.5,296.6l-1.5,-5.1M823.9,297.6l0.5,-4.7M858.6,309.5l2.9,1.1M821.6,292.9l-1.8,-2.7M822.5,289.5l-1.8,-2.9M829.7,280l2.6,-0.4M832.3,271.9l-1.4,-3.9M833,269.6l-0.9,-4.2M837.5,255.6l-2.7,-2.5M789.5,311.2l-3.2,-3.9M786.7,311.1l-1.6,2.3M778.3,310.7l-1.6,3.7M787.9,305.6l-3.5,-4.3M776.1,301.2l-4.2,0.6M842.3,322.3l0.5,2.9M845.8,323.8l0,4.3M849.2,322.4l2.3,-2.5M780.9,302l-1.5,-5.2M778.3,300.9l-2.5,1M772.5,298.4l-2.7,-4.6M802,281.2l-2.8,-3M792.5,302.8l-0.7,-4.5M790.2,301.8l-1.8,-3.3M785.7,259.8l-3.1,-1.5M859.1,309.4l1.6,3.1M867.9,310.2l2.6,-4.1M870.6,310l1.9,2.2M877.5,309.4l1.3,-4.6M841,318.1l3.9,-2.9M848.3,318.4l1.7,2M793,299.1l-1.9,-4.5M775.8,287l-3,-0.5M783.4,310.5l-3.1,0.7M799.5,305.1l-4.4,1.3M784.5,303.7l-1.5,-2.6M775.9,301.1l-0.8,-3.7M768.8,299l-1.2,-2.7M824.8,307.7L831.2,250.5M830.9,252.8l2.4,-1.8M830.9,252.4l-2.1,-4.2M798.3,273.5l3,-3.1M857.8,319.9l3.4,-1.1M781,279.3l0.9,-2.5M845,318.9l1.7,2.6M818.9,288.2l-0.9,-2.6M822.9,293.5l-2,-3.3M801.9,288.1l0.9,-3.2M798.7,282.5l1.9,-4.1M797.4,280.1l-2.4,-0.9M828.3,315.1L857.4,327.9M841,320.7l-0.2,5M851.6,325.3l3.1,-2.3M823.2,288.6l3.1,-1.6M793.6,298l0.3,-2.8M778.5,290l-4.9,0.5M814.2,282.9l1.8,-5.2M816.2,283l1.9,-3M837.8,286l-1.5,-4.6M848.2,274.4l-0.3,-3.6M816.8,314.3L873.5,305M796,293.4l-4.1,-0.6M786.7,285.9l-4.6,0.1M772.2,274.1l0.6,-2.7M832.4,265.3l-0.6,-2.9M800.8,311.9L777.6,321.3M778.2,321.1l-3.6,-3.4M838,314.7l1.5,-2.6M863.4,318.2l5.1,-1.7M818.7,297.8l1.6,-3.6M818.6,293.5l2.8,-1.8M818.4,287.1l-2.5,-3.8M812.6,311.2L788.8,294M799.7,301.9l-3.4,1.2M813.5,305.3L840.4,285.7M827.5,295.1l3.1,-0.2M849.6,323.6l2.2,3.1M850.9,323.9l4.2,-1.5M756.1,292.9l-0,-3.2M752.6,291.4l-2,-3.8M780.2,319.7l-3.1,-2.8M800.1,313.4L753.3,315.4M772.8,314.5l-3.4,3.5M761.4,315l-3.3,-1.8M802.2,295.8l-4.4,1.3M778.5,277.4l-4.9,1.6M813.5,297l-3.3,-2.5M784.4,327.9l-3.5,-1.7M788.3,293.8l1.1,-3.7M773.7,281.3l-1.6,-3.9M852.5,328.2l3.7,-2.7M837.3,324.4l0.6,3.3M854.9,330.7l0.9,4.6M857.8,331.7l2.2,2.4M853,327.8l2.4,-1.4M839.3,310.9l2.6,-2M843.7,310.7l4,3.5M847.4,310.4l2,-2.7M809,308.8L785.1,275.1M794.8,299.2l-3.9,-0.9M793.3,297.4l-3.8,1.1M801.3,284.7l-3,-0.4M830.9,311.9L860.1,325.5M857.3,324.2l4.4,-1.9M821.8,285.7l-2.7,-3.6M824.9,277.2l3.3,-0.8M826.9,271.5l2.4,-1.6M783.3,321.1l-2.7,4.7M779.4,321.7l-1.5,2.2M777.3,322.1l-1.2,3.1M808.3,285.3l-2.6,-0.7M806.3,280.9l2.9,-3.2M832.8,305.2l2.1,1.8M798.4,316l-2.5,-2.2M787.4,317.5l-2.3,2.8M792.4,310.4l-2.4,3.8M785.9,305.2l-2.8,-3.2M778.8,303.2l-0.9,-3M758.8,297.7l-1.6,1.9M753.1,296.1l-3.4,2.9M850.7,325.3l2.1,1.9M841.4,303.4l3.6,4.1M846.2,302.1l3.6,2.6M861.9,297.7l2.1,-1.9M868.4,295.8l1.1,-4.2M820.3,291l-3.5,-2.6M820.9,285.9l1.7,-2M812.9,305.4L822,276M819.4,284.4l-3.7,-3.6M811.5,309.2L828.7,287.1M800.9,296.2l2.1,-3.9M839.2,301.5l5,0.9M841.7,300.5l3.2,2.9M852.6,296.2l5.3,1.1M772.1,324.5l-0.8,2.9M818.7,293l2.3,-2.1M813.8,277.6l-3.3,-1.7M789.3,324.3l-2.6,3.6M833.8,307.6l0.4,-2.8M841,301.9l2.5,1.4M786.7,312.4l-4.2,-2.9M781.3,311.5l-3.8,-3.3M823.2,310.1L882.2,314.4M845.6,311.7l3.5,-2.7M852.3,312.2l3.1,-2.5M876,313.9l0.9,2.8M813.4,281.7l3.9,-3.6M837.6,316.9l3.2,2M798.7,290l0.9,-2.6M798,289l-4.9,-0M784.6,269.1l-2.9,-0.3M793.4,310l-3.4,-3.8M790.1,310.1l-2,-3.5M771,310.3l-4.2,-2.6M827.4,289l2.4,-1.7M828.7,285.2l4,-1.1M785,286.5l0.7,-3.1M773.2,272.5l-4.9,1.3M795,294.5l0.7,-2.6M781.9,280.7l-3.6,0.2M842.9,275.9l4.7,0.5M847.3,271.2l3.3,-0.4M819,310.9L869.6,321.2M859.9,319.2l2.4,-2.1M869,321.1l2.6,-1M802.5,286.8l0.8,-2.5M800.9,283.5l0.3,-5.1M797,276l-4.1,-0.7M832.6,300.3l0.2,-4.4M835.8,295.8l0.6,-3.4M807.5,294.8l-4.6,1.1M841.3,316.4l1.8,4.6M849.7,318.3l4.5,-1.1M844.4,319.3l2.9,-0.5M849.3,321.4l0.9,2.5M792.1,292.2l-2.6,-1.1M789.4,305.5l-1.9,2.8M872.8,323.4l0.7,3.5M807.4,278.2l0.7,-4.3M803.5,267.4l1.1,-2.6M824.9,280.4l-1.2,-2.8M792.4,316.4l-2.7,-2.3M787.6,317l-4,-3.2M776.5,318.3l-1.9,4.8M807.3,288.9l2.4,-4.5M821.3,292.2l-1,-3.4M822.2,285.9l-1.3,-3.3M870.5,303.1l2.7,2M876.9,301.7l0.4,-2.5M833.9,320.1l3,0.2M838.6,322.8l3.7,-3M823.5,286.1l-1.3,-2.2M849.2,320.1l2.1,3M854.9,321.1l3.4,3.6M812.4,289.7l1.9,-2.2M764.3,305.2l-1.9,-2M775.3,299.6l-2.2,2.3M831.5,312.2L846.2,308.3M846,295l3.1,1.1M831.7,312.1L875,300.4M867.6,302.4l4.7,2.3M869.7,301.9l2.1,-4.8M807.8,292l0.5,-4.7M772.2,300.7l-1.9,-4.2M804.4,280.3l3.2,-1.3M843.9,286.4l3.2,-0.7M808.9,307L821.9,265.2M831.2,293.8l2.4,-1.8M828.2,300.4l2.7,1.9M836.3,295.5l5,-0.5M817.2,271.1l4.1,-1.1M800,313.9L765.6,319M774.4,317.7l-3.3,4.1M766.4,318.9l-2.7,-1.6M785.5,307.7l-0.3,-2.5M786.2,316.8l-1.8,2.3M841.8,286.8l-0.2,-4M849.1,277.1l-0.5,-3.2M851.6,273.7l-1.4,-2.6M793.8,298.4l-2.3,2.8M815.4,292.9l2.4,-3.5M815.1,288.6l-2.2,-1.3M843.6,313.7l1.5,4.2M849.5,314.8l2.4,-1.9M868,318.3l2.3,-2.6M831.9,299.8l4.5,1.7M836.2,297.4l3.3,1.5M839.6,295.4l3.3,2.6M774.4,330.3l-1.3,4.1M770.7,332.3l-5.2,-0.6M794.7,319.8l-1,2.5M792.8,305.8l-2.9,-3.4M854.2,308.3l4.2,3.5M855.8,307.8l4.1,0.8M784.1,313.1l-2.6,4.4M780.1,312.9l-3.7,-2.6M771.2,312.4l-4.3,-2.6M852.8,298.6l0.4,-2.5M786.9,321.5l-4.9,-2.4M780.5,323.4l-1.9,-2M833.5,322.3l3.5,-2.4M804,271.6l-3.6,-0.9M848.9,303.1l1.5,-4.4M849.5,302.8l3,-4M843.3,319.5l2.2,3.4M820.1,287.3l-2.1,-3.3M824.2,275.5l4.3,-0.6M825,273l-2.7,-2.9M827.8,300.9l0.5,-2.6M797.3,305l-2.5,-2M836.3,276.6l-2.3,-3.6M840.5,271l3.5,0.9M841.8,269.2l3.4,-0.9M813.4,313.6L768,302.1M784.7,306.3l-2.7,1.5M793.8,314.7l-0.5,2.6M778.4,319.2l-3.9,-3.6M850.5,286.3l1.4,-5" stroke="#565a2b" stroke-width="1.45" stroke-linecap="round" fill="none"/>
<path d="M814.4,292.3l2.3,-4.4M812.1,279.1l-3,-2.3M809.6,264.7l-3.2,-2.3M859.8,299.6l3.8,0.9M871,295.6l4.7,2M815.6,308.5L860.9,285.6M833.5,299.4l4.2,3.3M775.6,315.4l-1.6,3.7M802.6,280.3l-5.2,-1.6M787.5,319.6l-4,-1.9M767.6,325.9l-2.4,-1.2M788,322.5l-3.4,-2.4M791,275.8l0,-5.3M784.8,267.9l-3.6,-1.7M858.7,301.1l2.7,1.7M860.6,300.6l2.7,-4M792.8,299.7l0,-3.1M781.5,291.4l-3.4,1.2M792.2,321.3l-3.4,-1.5M779.1,326.2l-4,-3.6M834.6,287.2l-0.3,-4.4M838,283.8l3.5,-0.2M846,311l4.1,-2.8M854.9,309.9l3.7,1.9M830.6,277.2l4.8,-2M833.4,268.6l-0.6,-2.9M835.2,308.3l2.1,-1.9M849.8,305.3l1.9,-1.8M785.3,304.6l-2.7,0.5M779.1,302.3l-1.1,-2.9M848.3,324.9l0.7,3.8M865,332.3l1.9,4.9M784.2,295.8l-5,1.3M771.9,289.3l-2.6,-4.1M815.2,262.2l-2.2,-1.9M786.4,304.4l-3.4,2.5M802.5,284.7l3.5,-3M782.5,303l-2.8,0.5M778.1,296.9l-0.2,-4.6M772.9,294.8l-3.7,3.8M795.9,307.9l-2.9,1.6M801.9,292.6l-2.6,-1.9M798,284.8l2,-2.7M792.7,274.1l0.1,-2.8M789.9,268.4l1.8,-2M836.1,311.1l2.7,-3.5M831.4,305.4l2.9,0.3M841.2,300.6l4.6,2.6M831,317.7l1.7,-2.4M791.8,312.7l-4,2.1M784.8,310.9l-2.5,3.1M810.4,310.4L781.7,296.4M782.7,296.9l-1,-4.6M768.4,305.9l-1.2,-2.5M764.9,305.3l-3.1,-3.8M787.1,304.5l-0.5,-2.9M775.2,300.9l-1.5,-3.4M827.2,285.8l4.9,-1.7M830.2,259.1l2.2,-2.2M799.5,280l1.7,-2.3M838.3,315.9l4.5,-2.9M818.6,285l-1.2,-5.1M808.8,307.2L779.7,278.1M796.4,294.8l-2.8,0.5M786.3,284.6l-4.6,1M846.8,319.4l3.5,3.9M850.7,320.5l2.1,4.6M826.1,260.7l-1.8,-4.7M823.4,287.8l-2.6,-1.4M824.8,273.1l3.9,-1M791.8,298.1l-3.1,0.8M847.9,323.7l3.2,-1.3M821.1,307.7L824.1,280.4M823,290.3l-1.2,-2.3M795.1,296.9l-0.1,-2.7M787.9,292l0.5,-5.1M807.3,308L794.3,287.9M800,296.7l-4.6,-0.8M799.7,296.2l-4.2,-1.7M795.5,289.8l0.8,-2.8M807.7,265.6l1,-3M823,306.3L812.7,270.7M819.5,294.2l-5.2,-0.8M813.8,274.6l1.6,-2.1M813.5,273.7l3.4,-2.8M835.8,311.2l1.4,-4.2M866.6,306.1l2.1,3.3M869.4,305.6l2.7,2.4M783.2,283l1,-3.2M778,278.8l-3.7,1.6M825.2,291.5l2.8,-1.3M826.5,286.7l3.3,-0.6M785,318.3l-0.7,3.6M851.6,316.6l1.8,4.9M827.8,296.5l-3.7,-3.7M829.7,288.5l-2.4,-3.4M832.1,278.3l-3.5,-3.8M811.4,297.7l-2.5,-2.3M811.3,294.7l4.2,-2.8M844.1,322.2l1.9,-2.6M845.5,322.5l2.6,2.9M853.4,324.5l3.1,-3M785.3,304.9l-0.7,-3.2M781.1,303.2l-1.9,-4.3M780,302.8l-3.3,1.9M778.5,302.2l-4,1.3M762.8,295.7l-1.9,-3.8M785.7,319.3l-3,4.4M774.9,314.4l-1.8,4.5M766.9,314.8l-3,2.2M765.8,314.8l-1.4,-2.6M759,315.1l-1.1,2.5M816.9,307.2L775.7,275.2M804.3,297.4l-4.3,1.8M790.3,286.6l-2.1,-4.1M842,322.4l4.2,-1.5M819.7,310.9L865.7,286.9M838,305.7l0,-3.8M849.9,299l1.3,-3.3M787.3,293l-1.4,-4.7M847.5,326l1.5,3.3M841.8,326l1.5,3.2M794.4,288.3l-3.8,0.3M786.8,277.5l0.6,-3.7M822.5,283.8l-3.4,-3.2M825.7,274.9l2.2,-1.3M793.8,319.3l-0.8,2.4M814.5,293.4l-2.2,-2.2M851.5,300.6l2.1,2.2M829.6,281.3l3.8,0.1M803.9,308.7L787,290.6M792.4,296.3l-0.2,-3.3M793.3,302.2l-3.8,2.8M784.8,296.7l-3.2,-0.2M781.5,294.6l-0.9,-3.2M776.7,291.4l0.2,-3.9M771.6,288.1l-0.6,-2.9M811.8,312.4L750.5,295.4M833.3,320.4l3.1,-4.1M852.8,325.9l2.8,-2.9M825.6,294.3l0,-4M831.6,288.1l4.9,0.1M856,299.3l3,-3.1M865.4,296.7l0.4,-4.1M873.9,294.3l2.6,-3.5M819.9,295l2.7,-3M820.1,293.6l5.1,-1.3M799.2,287.6l2.9,-4M790.8,318.4l-2.6,3.6M816.9,287.4l-2.6,-0.4M814.6,316.2L774.6,329.1M833.6,322.1l0.8,4.3M828.7,311.5L845,298.8M784.3,312l-4.7,1.6M782.9,311.8l-2.1,-2M776.9,310.7l-3.8,-2.8M764.5,308.6l-3.5,1M848.6,311.9l2.1,-3M850.9,312.1l2.4,-1.5M856.4,312.5l3.2,2.2M879,314.2l2.8,3.6M814.7,274l2.4,-2.2M816.5,262.7l4.6,-2.4M800,291.9l-5.3,-0.6M786.2,271.6l-0.5,-3.9M783.5,267.5l-2.8,0.5M768.3,310.3l-4.1,-1.9M829.6,282.5l-2.5,-3.5M835.3,319.5l2.2,2.1M844.6,322.1l1,2.9M851.9,324.1l1.9,4.9M798.2,288.1l-2.6,0.2M791.9,276l1.9,-3M775.2,274.9l-3.3,-0M793.1,292.5l-0,-3M778.3,276.8l0.7,-2.8M773.5,271.8l0.7,-3.7M846.7,316.5l3.9,-2.6M817.3,305.8L778.5,258.9M804.4,290.2l-0.7,-3M797.2,281.6l-4.3,1.1M844,317l0.8,2.6M816.5,307.9L792.2,293.3M796,295.6l-3.8,1.6M840.7,317.8l0.7,3.7M810.9,287.6l2.3,-4.3M824.3,286.6l-3.2,-2M785.7,318.1l-3.5,3.5M783.1,318.5l-1.5,2.1M779.1,319.2l-1.6,-2.4M845.5,320.2l1.7,3.2M791.9,293l1.8,-4.5M787.6,287.2l-3.8,0.9M785.8,284.6l-3.7,-0.1M794.4,280.7l0.5,-3M831.9,274.3l4.8,-2.5M804.1,285l-3.6,0.1M790.3,268.2l-2.7,0.3M850.8,307.2l1.4,-2.3M860.1,305.3l1.9,-2.3M872,302.8l1.7,-2.1M820.3,306.5L823.5,285.7M821.9,295.8l-4.2,-3M833.3,317.2l1.2,2.7M814.5,295.3l3.1,-3.8M808.9,280.7l-3.5,-3.3M781.9,309.3l-2.7,2.8M774.3,307.6l-3.3,4.1M765.7,305.6l-2.7,1.9M789.4,305.4l-2.6,2.2M786.3,304.1l-0.8,-2.8M781.4,302.1l-0.1,-3.5M780.1,301.6l-1.6,-2.1M774.2,299.2l-4.5,2.4M830.5,304.5l4.3,1.2M853.2,306.3l4.2,2.8M859.2,304.7l2.6,0.6M809.5,300.1l3,-1.9M808.5,291.8l-2.4,-3.2M804.4,275.3l-2.4,-2.6M816.9,281.2l-1,-3.5M841.2,298.5l2.1,1.4M857.9,289.2l2.9,1.2M788.5,315.6l-3.8,-1.7M786.4,308l-4,2.4M783.3,307.1l-2.8,-3.6M778.6,305.8l-1.8,-2.1M777.2,305.4l-1.2,-4.5M800.4,313.5L756.5,323.8M766.8,321.4l-4.3,-1.6M850.2,275.5l-0.1,-3M854,270.4l4.1,-0.7M798.8,300.1l-2.5,-3M816.1,305.9L814.1,271.5M814.6,280.9l-2.4,-2.4M814.1,271.6l4.6,-3M852.2,315.3l2.2,4.1M843,293.5l2.4,-3.7M800.8,316.2L766.2,334.7M789,322.5l-4.6,-3M784.2,325.1l-3.2,-1.1M776.8,329.1l-0.6,2.6M799.2,319.3l-3,-1.7M791.9,320l-1.7,2.8M789.6,305.5l-2.3,3.4M781.1,304.5l-2.2,-4.2M780.1,309.2l-1.9,-2.7M769.7,308.8l-2.3,3M825.1,302.4l2,-3.8M868.4,294.5l4.6,1.1M875.7,329l4.1,-1.3M828.9,300.3l1.8,-4M796.5,304.8l-3.2,1.7M835.8,285.1l-0.4,-3.5M839.2,315.4l2.1,2.4M870.3,321.1l2.8,2.2M842.7,268l0.9,-5.3M770.2,302.7l-0.5,-3.3M837.2,306.8l1.7,-3.2M776.4,319.8l-2.1,3.2M849.1,321.3l2.2,3.4M827.6,298.1l4,1.2M840.6,291.4l-0.1,-2.6M854.9,284l1.5,-3.5M856.6,283.2l4.4,1.4" stroke="#c4be92" stroke-width="1.45" stroke-linecap="round" fill="none"/>
<path d="M796.9,297.4l-3.5,-0.2M845.5,304.7l3.2,0.8M846.9,304.3l2.5,-3.5M872.8,295l1.4,-2.2M787.7,308.1l-1.7,2.2M786.2,308l-2.9,2.9M802.5,317L779.2,320.1M784.8,319.4l-4.3,-2.8M803.3,290l-4.1,1.1M796.6,280.9l1,-4.7M772.7,330.8l-4.4,-3.2M785,315.3l-1.9,4.9M803.1,284.4l-3.6,-3.9M800.1,262l2.5,-1.7M793.2,317.8l-0.1,2.7M805.5,317.2L775.2,326.4M804.3,292.8l-3,-0.3M802.1,290.1l1.1,-2.7M789.8,274.3l1.1,-3.1M870,297.9l3.4,3.3M878,295.7l3.3,1.8M796.9,302.7l-3.8,-0.7M783.4,292.8l-0.4,-4.5M786.8,323.3l-0.8,3.4M770.3,297.2l-2,-2.2M759.9,294.1l-2.6,1.2M752.1,291.7l-2.2,2M842.1,311.5l2.3,2.6M868.1,308.3l1.4,-3M835.1,263.2l-1.6,-2.8M784,311l-1.8,-1.8M825.8,310.3L854.4,304.3M840.8,307.2l2.8,-4.4M852.6,304.7l1.6,-3.6M780.4,316.9l-2.4,2.2M860.5,330.4l-0,3.8M782.7,295l-3.3,1.2M831.2,319.3l1.3,5.2M841,321l2.8,-4.5M855.1,323.4l2.3,4.1M762.8,294.3l-4.3,3.5M758.3,292.4l-3.4,3M805.4,305.2L799.5,263.9M802.3,283.3l2.9,-3.9M789,304.8l-2.8,2.5M803,307.1L772.5,294.6M791.3,302.3l-1.8,-3.1M782.7,298.8l-2.8,0.2M789.1,305.4l-2.8,2.5M809.3,307.7L785.1,258.6M794.2,277.1l-3.6,-2.1M787.5,263.6l0,-2.7M855.3,309.7l2.4,1.8M819.5,314.7L880.9,309M865.6,310.5l2,-3M838.2,318l1.9,-2.6M855.6,318.6l2.2,3.7M797.1,302l-2.4,1M800.2,314.9L775.9,308.5M790.1,312.2l-2.4,-2.8M787.4,311.5l-0.5,-2.6M801.5,306l-3.4,0.4M791.5,301.2l-3.8,2.6M788.1,299.5l-3.8,1.8M774.5,306.8l-2.2,-4.7M829.2,268.1l2.9,-4.7M829.8,263.2l1.6,-2.6M829.9,314.2l1.5,2.2M834.5,315.2l1.5,2.6M817.3,291.1l-2.5,-1.8M818.2,287l-1.2,-2.7M814.6,304.8L826.5,259.4M820.6,281.9l2.3,-2.1M821.2,279.7l1.7,-2M822.1,276l-1.4,-4.2M799.9,284.6l-4.9,-2M792,270.4l-0,-5.1M797.1,301.3l-0.5,-4.7M854.2,326.5l4.4,-2.9M822.2,297.8l-3.3,-3.9M796.9,298.1l0.6,-5.3M792.1,294.8l-1,-5.2M790.4,293.7l-3.9,1M779.7,286.5l-2.3,1M842.7,327.4l0.4,4.5M812.7,279l1.4,-4.1M810.6,273.3l-3.5,-2.5M818.6,291.2l-3.1,-2.3M815.8,281.4l2.2,-2.9M814.7,277.6l1.8,-4.1M815.8,310.5L851.7,270.5M846.8,276l0.3,-2.9M864.3,306.5l1.5,-3.2M798.7,295.6l-1.2,-4.1M776.4,277.5l-0,-4.3M767.9,270.6l1,-4.6M830.2,273.2l3.9,-2.8M781.1,319.9l-2.9,4.6M860.4,317.8l2.5,3.6M818.5,290.9l2.3,-3.9M831.5,280.8l4.3,-3.4M811.3,289.2l-1.5,-2.8M828.4,294.4l0.3,-2.7M837.2,288l1.1,-3.1M861.9,326.7l4.9,-1.1M864.1,327.2l3.5,-2.1M868.3,328.3l2.1,3.4M795.8,318.5l-2.6,-3.9M788.8,319l-3.6,3.9M781.8,319.6l-2.4,-2.2M775.4,320l-1.5,3.7M780.2,318.3l-2,2.1M814.4,293l3.4,-0.9M837.6,320.5l2.9,-2.6M839.1,321.1l3.5,-1.9M848.9,325.3l1.6,5.1M794.1,323.1l-0.7,3.3M787.1,326.6l-4.3,-3.4M864.1,287.7l2.3,-3.3M837.2,306.2l5.5,0.5M842.3,303.3l4.4,3.2M840.2,325.4l1.8,4.7M845.2,327.2l4.7,-1.6M841.4,322.7l3.2,-0.9M843.1,323.5l4.4,-0.9M847,325.2l4.5,-1.2M851.3,327.1l-0.2,2.8M797.2,292.2l0.3,-3.6M795.4,289.7l-4.3,-2M790,282.1l-3.6,-0.5M787.8,278.9l-0.5,-3M800.5,306L789.9,293.4M810.4,294.9l2.2,-4.7M807.5,291.6l-1.1,-5.2M855.1,323.2l0.4,4.1M827.8,269.2l4,-3.6M817,308.3L813,284.5M807.1,282.7l-2.5,-0.9M835.1,304.6l0.5,-2.8M831.1,278.8l0.3,-4.6M788.8,299.3l-4.5,2.5M790.2,310.2l-4.1,2.6M771.9,307.8l-2.9,2M821.9,298.2l0.9,-3.7M824.8,295.2l2.8,-1M852.2,300.4l2.5,-2.9M866.2,296.5l3.5,4M818.8,305.2L822.1,274.3M816,295.3l3.1,-0.8M819.1,285.5l3.4,-0.2M828.5,287.3l1.1,-5M799.9,291.2l2,-3.7M799.9,291l1.9,-3.7M799.3,288.3l-2.8,-2.6M834.8,303.2l3.5,1.5M849.1,297.6l1.5,-2.7M855.8,295l0.1,-2.9M786.2,319.9l-4.8,-0.9M776.1,323.2l-2.7,-2.9M773.4,324.1l-1.5,3.1M806,294.5l-0.4,-2.6M819.4,295.2l-2.7,-0.3M782.4,326.6l-0.9,2.4M838.4,324.3l4.8,-1.7M835.5,306.2l0.4,-3M766.3,308.9l-1.5,-3.4M761.6,308.1l-3.7,-2.6M812.5,287.2l4,-2.9M813.2,283.4l-1,-2.5M814.2,276.8l3.5,-3.9M816.1,265.2l-3.1,-2.5M827.1,316.2l3.5,-4M808.7,304.7L782.4,265.9M793.8,282.8l2.2,-4.8M790.3,277.6l0.6,-4.2M789.3,276.1l1.6,-3.5M788.2,310.1l-1.9,-1.6M781.6,310.2l-3.6,2.4M776.6,310.2l-3.5,1.7M830.4,280.2l-3.3,-2.8M834.9,266.9l3.2,-2.3M837.7,320.1l3.8,-3M800.2,292l1.7,-2.4M799.4,290.3l-4.5,-2.3M794.1,297.4l-3.5,-0.6M790.3,292.9l-0.7,-3M774.9,273.3l-3.9,-1.3M830.8,288.6l1.1,-3.6M833.8,285.5l3.1,-0.1M841.6,277.2l-1.1,-2.6M845.6,273l3.4,0.5M860.4,319.3l1.7,3.1M866.5,320.6l3.6,3.6M800.9,286l-5.5,0.4M797.6,282l-3,0.9M793.4,277l0.7,-3M789.1,271.7l-4.2,0.7M784.2,265.9l-4,-0.8M806,293.5l-3,0.4M837.3,293.8l-2.7,-4.2M809.8,296.4l0.6,-2.7M801.1,290.3l-0.8,-5.1M852.6,318.9l1.4,3.3M870.7,322.9l1.1,4.6M842.5,318.5l3,-0.7M804.5,307.3L780.5,304.5M791.7,305.8l-1.4,-4.8M783.1,304.8l-2.9,-2.7M852.9,320l1.2,5M860.2,321.3l3.6,-2.8M822.2,307.6L826.9,259.5M825.8,270.8l-2.4,-4.3M826.9,259.7l-2,-1.6M858,304.2l1.4,-2.8M856.8,323.2l0.7,2.5M789.6,289.8l-0.7,-4.8M789.1,289.1l-4.3,-1.2M793.3,278.4l-2.7,-1.4M824,290.7l-1.8,-2.9M825.1,288.5l3.5,-0.4M828.7,281l2.9,-2M805.4,286.6l-4.5,0.9M795.6,274.6l-4.7,-0.5M794.8,273.8l-4.6,1M791.7,270l-5,-1M787.5,264.8l-2.9,0.9M820.9,294.6l-2.7,-3.3M821.5,290.5l4,-1.7M841.6,309.1l4.8,1.3M829,313.8L864.4,336.3M840.4,321.1l1.7,3.2M819,306.7L804.4,269.2M813.4,292.3l1,-3.5M789.2,311l-3.5,2.4M771.2,306.8l-0.6,-3.9M842.2,297.3l2.6,1.6M845.1,308.5l1.1,-5.1M780.1,289.4l0.3,-5.2M777.2,286.9l-0.8,-3.1M781.7,303.7l-2.1,-3.2M774.6,301.5l-1.8,1.7M804.5,292.3l4.9,-1.9M818.1,277.2l4.2,-0.7M820.9,268.2l-1.9,-4.7M839.4,299.4l0.6,-5.1M851.9,292.5l1.6,-2.4M861.8,287.1l4.7,1M844.1,290.8l4.8,-0.5M811.9,290.9l2.7,-0.9M814,283l-3,-3.2M814.5,281.2l3.4,-1.7M781.4,316.7l-2.7,-3.6M778.9,317l-1.7,3.9M777.6,317.2l-1.8,2.2M791,309.2l-3.7,2.7M780.9,306.4l-3.1,2.3M760.8,322.8l-3.9,-2.5M842.8,285.5l-2.7,-4.1M852.4,272.6l0.5,-3M793.4,298.3l-4.8,1.5M814.6,280.4l-2.2,-4M780.6,327l-2.6,-0.4M776.6,321.5l-1.7,4.2M859.2,306.9l3.2,-2.9M822.2,292.4l5.2,0.9M827.3,285.6l5,0.3M777.5,309.1l-2.4,-2.8M764.1,308.6l-4.5,-2.7M775.2,312.6l-2.8,1.2M774,312.5l-3.6,4M857.5,296.5l3.5,2.8M859.2,295.8l3.9,2.5M860.7,295.1l3.3,2.7M772.6,325.8l-5.2,-0.8M795.6,298.1l1,-4.3M834.8,322.5l4.8,-1.7M838,323.2l4.3,-3M847.2,325l1,2.3M842.8,305.8l4.7,0.3M872.2,292.9l2.6,2M876.4,291l0.7,-4.1M878.1,290.2l2.9,2.6M825.9,314.4L875.7,329M841.7,319l2,3.7M848.5,321l1.3,4.5M851.4,321.9l3.4,-1.7M867.5,326.6l1.6,2.5M817.4,306.6L843,292.6M799.7,305.4l-4.6,1.5M828.8,294.3l0.7,-5.3M830,292.7l4.8,-0.6M831.9,290.2l0.3,-4M832.5,289.5l-1,-2.4M807.6,284.3l3.4,-2.1M822.1,295.5l-1.8,-3.5M796.3,309.3l-3.5,4M775.5,304l-2.1,2.4M830.6,308.5l2.1,2.5M839,318.1l2,5M843.3,319.5l1.9,1.9M855.7,323.4l1,3.8M830.3,296.7l-0.2,-4.2M844.4,289.4l4.8,1.2" stroke="#9c9a62" stroke-width="1.45" stroke-linecap="round" fill="none"/>
<radialGradient id="gPot" cx="0.55" cy="0.4" r="0.7"><stop offset="0" stop-color="#d2d3d1"/><stop offset="0.6" stop-color="#bbbcba"/><stop offset="1" stop-color="#949593"/></radialGradient>
<path d="M796,318 C780,326 776,346 784,362 C790,374 800,378 815,379 C830,378 842,374 847,362 C854,346 850,326 834,318 C826,313 804,313 796,318 Z" fill="url(#gPot)"/>
</g>
<g id="c1" clip-path="url(#k1)">
<rect x="30" y="0" width="360" height="360" fill="#fff"/>
<linearGradient id="g1side" x1="0" y1="0" x2="1" y2="0"><stop offset="0" stop-color="#68747b"/><stop offset="1" stop-color="#626e75"/></linearGradient>
<polygon points="81,183 257,140 257,360 81,360" fill="url(#g1side)"/>
<polygon points="109,236 227,211 227,360 109,360" fill="#636f76"/>
<polyline points="111,360 111,238 227,213" fill="none" stroke="#57636a" stroke-width="2.5"/>
<polyline points="108.5,360 108.5,236 227,210.5" fill="none" stroke="#6f7b82" stroke-width="1"/>
<polygon points="257,140 276.5,142 276.5,360 257,360" fill="#6d7980"/>
<rect x="276.3" y="143" width="1.8" height="220" fill="#4c575e"/>
<polygon points="278,143 390,153 390,360 278,360" fill="#737f86"/>
<polygon points="329,207 374,210 374,360 329,360" fill="#707c84"/>
<polyline points="328,360 328,206.5 376,209.5" fill="none" stroke="#5c686f" stroke-width="1.6"/>
<line x1="327" y1="146" x2="327" y2="206" stroke="#697580" stroke-width="1"/>
<rect x="374" y="210" width="3" height="150" fill="#64707a"/>
<rect x="377" y="210" width="14" height="150" fill="#78848b"/>
<polygon points="257,138 390,150 390,156 257,143" fill="#4a555c"/>
<rect x="276" y="254" width="5.6" height="57" rx="1.2" fill="#c9cacb"/>
<rect x="277.5" y="256" width="1.4" height="53" fill="#8e9092"/>
<linearGradient id="g1m" gradientUnits="userSpaceOnUse" x1="150" y1="131" x2="160" y2="163"><stop offset="0" stop-color="#6c7980"/><stop offset="0.18" stop-color="#68757c"/><stop offset="0.22" stop-color="#59646b"/><stop offset="0.45" stop-color="#566168"/><stop offset="0.8" stop-color="#616d74"/><stop offset="1" stop-color="#5c686f"/></linearGradient>
<path d="M57,155 L246,106 L252,126 L257,140 L81,183 L75,182 C66,178 60,172 59,164 Z" fill="url(#g1m)"/>
<linearGradient id="g1f" gradientUnits="userSpaceOnUse" x1="320" y1="112" x2="317" y2="146"><stop offset="0" stop-color="#6e7a82"/><stop offset="0.2" stop-color="#69767d"/><stop offset="0.26" stop-color="#5c686f"/><stop offset="0.5" stop-color="#57626a"/><stop offset="0.85" stop-color="#636f76"/><stop offset="1" stop-color="#566168"/></linearGradient>
<path d="M245,106.2 L390,119 L390,152 L256,140.2 L251,126 Z" fill="url(#g1f)"/>
<path d="M57.5,155.5 L246,107 L390,120" fill="none" stroke="#76838a" stroke-width="1.2"/>
<path d="M81,183 L257,140 L390,152" fill="none" stroke="#4c575e" stroke-width="1.2"/>
</g>
<circle cx="210" cy="176" r="174" fill="none" stroke="#6b5844" stroke-width="1.1"/>
<g id="c2" clip-path="url(#k2)">
<rect x="30" y="485" width="360" height="360" fill="#76838a"/>
<rect x="57.9" y="485" width="2.6" height="360" fill="#5d6a72"/>
<rect x="60.5" y="485" width="2" height="360" fill="#7f8d95"/>
<rect x="117.4" y="485" width="12" height="360" fill="#7e8c94"/>
<rect x="118.4" y="485" width="3.3" height="360" fill="#5c696f"/>
<rect x="125.30000000000001" y="485" width="3.4" height="360" fill="#5c696f"/>
<rect x="185.9" y="485" width="12" height="360" fill="#7e8c94"/>
<rect x="186.9" y="485" width="3.3" height="360" fill="#5c696f"/>
<rect x="193.8" y="485" width="3.4" height="360" fill="#5c696f"/>
<rect x="254.2" y="485" width="12" height="360" fill="#7e8c94"/>
<rect x="255.2" y="485" width="3.3" height="360" fill="#5c696f"/>
<rect x="262.09999999999997" y="485" width="3.4" height="360" fill="#5c696f"/>
<rect x="329" y="485" width="2.6" height="360" fill="#62717b"/>
<rect x="331.6" y="485" width="2.4" height="360" fill="#808e96"/>
</g>
<circle cx="210" cy="664.5" r="174.3" fill="none" stroke="#705a46" stroke-width="2.4"/>
<g id="c3" clip-path="url(#k3)">
<rect x="30" y="970" width="360" height="360" fill="#fff"/>
<defs>
<linearGradient id="h_flat" x1="0" y1="0" x2="1" y2="0"><stop offset="0" stop-color="#a9a9a9"/><stop offset="0.25" stop-color="#c6c6c6"/><stop offset="0.55" stop-color="#d2d2d2"/><stop offset="0.8" stop-color="#bdbdbd"/><stop offset="1" stop-color="#a4a4a4"/></linearGradient>
<linearGradient id="h_dark" x1="0" y1="0" x2="0" y2="1"><stop offset="0" stop-color="#9e9e9c"/><stop offset="0.12" stop-color="#858583"/><stop offset="0.5" stop-color="#6e6e6c"/><stop offset="0.85" stop-color="#7e7e7c"/><stop offset="1" stop-color="#5e5e5c"/></linearGradient>
<linearGradient id="h_dark2" x1="0" y1="0" x2="1" y2="0"><stop offset="0" stop-color="#000" stop-opacity="0.18"/><stop offset="0.5" stop-color="#000" stop-opacity="0"/><stop offset="1" stop-color="#fff" stop-opacity="0.12"/></linearGradient>
<linearGradient id="h_low" x1="0" y1="0" x2="1" y2="0"><stop offset="0" stop-color="#a6a6a6"/><stop offset="0.3" stop-color="#bcbcbc"/><stop offset="0.6" stop-color="#b0b0b0"/><stop offset="0.85" stop-color="#c9c9c9"/><stop offset="1" stop-color="#b5b5b5"/></linearGradient>
<linearGradient id="h_low2" x1="0" y1="0" x2="0" y2="1"><stop offset="0" stop-color="#fff" stop-opacity="0.15"/><stop offset="0.5" stop-color="#000" stop-opacity="0.04"/><stop offset="1" stop-color="#000" stop-opacity="0.12"/></linearGradient>
<linearGradient id="h_bar" x1="0" y1="0" x2="0" y2="1"><stop offset="0" stop-color="#4a4a48"/><stop offset="0.15" stop-color="#8c8c8a"/><stop offset="0.3" stop-color="#5c5c5a"/><stop offset="0.45" stop-color="#cfcfcd"/><stop offset="0.6" stop-color="#8a8a88"/><stop offset="0.75" stop-color="#b5b5b3"/><stop offset="0.9" stop-color="#5e5e5c"/><stop offset="1" stop-color="#3c3c3a"/></linearGradient>
</defs>
<g transform="translate(147.5,1257.5) rotate(-44.6)">
<path d="M6,-140 H246 Q258,-140 260,-128 L264,-90 H-2 L-8,-126 Q-9,-140 6,-140 Z" fill="url(#h_flat)"/>
<rect x="-4" y="-140" width="266" height="5" fill="#fff" opacity="0.25"/>
<path d="M-1,-90 H263 L259,-19 H1 Z" fill="url(#h_dark)"/>
<path d="M-1,-90 H263 L259,-19 H1 Z" fill="url(#h_dark2)"/>
<rect x="-1" y="-93" width="265" height="4" fill="#d0d0ce"/>
<rect x="-1" y="-89" width="264" height="3" fill="#6a6a68"/>
<rect x="0" y="-84" width="262" height="3" fill="#a8a8a6" opacity="0.7"/>
<path d="M2,14 H258 L262,88 Q262,100 250,100 H36 Q24,100 18,92 L2,26 Z" fill="url(#h_low)"/>
<path d="M2,14 H258 L262,88 Q262,100 250,100 H36 Q24,100 18,92 L2,26 Z" fill="url(#h_low2)"/>
<rect x="-6" y="-19.5" width="266" height="34" fill="#fff"/>
<rect x="-2.5" y="-1" width="40" height="16" fill="#b4b4b4"/>
<rect x="-3.5" y="-15.5" width="42" height="26" rx="3" fill="url(#h_bar)"/>
<rect x="37.5" y="-15.5" width="2.2" height="26" fill="#2e2e2c" opacity="0.75"/>
<rect x="42.5" y="-20" width="41" height="16" fill="#7e7e7c"/>
<rect x="41.5" y="-15.5" width="43" height="26" rx="3" fill="url(#h_bar)"/>
<rect x="83.5" y="-15.5" width="2.2" height="26" fill="#2e2e2c" opacity="0.75"/>
<rect x="88.5" y="-1" width="36" height="16" fill="#b4b4b4"/>
<rect x="87.5" y="-15.5" width="38" height="26" rx="3" fill="url(#h_bar)"/>
<rect x="124.5" y="-15.5" width="2.2" height="26" fill="#2e2e2c" opacity="0.75"/>
<rect x="129.5" y="-20" width="40" height="16" fill="#7e7e7c"/>
<rect x="128.5" y="-15.5" width="42" height="26" rx="3" fill="url(#h_bar)"/>
<rect x="169.5" y="-15.5" width="2.2" height="26" fill="#2e2e2c" opacity="0.75"/>
<rect x="174.5" y="-1" width="38" height="16" fill="#b4b4b4"/>
<rect x="173.5" y="-15.5" width="40" height="26" rx="3" fill="url(#h_bar)"/>
<rect x="212.5" y="-15.5" width="2.2" height="26" fill="#2e2e2c" opacity="0.75"/>
<rect x="217.5" y="-20" width="38" height="16" fill="#7e7e7c"/>
<rect x="216.5" y="-15.5" width="40" height="26" rx="3" fill="url(#h_bar)"/>
<rect x="255.5" y="-15.5" width="2.2" height="26" fill="#2e2e2c" opacity="0.75"/>
<ellipse cx="213" cy="-124" rx="14.5" ry="10.5" fill="#8f8f8f"/>
<ellipse cx="214" cy="-122.8" rx="12.5" ry="8.5" fill="#fff"/>
<ellipse cx="36" cy="-125" rx="14.5" ry="10.5" fill="#8f8f8f"/>
<ellipse cx="37" cy="-123.8" rx="12.5" ry="8.5" fill="#fff"/>
<circle cx="221" cy="58.5" r="17.5" fill="#d9d9d9"/>
<circle cx="221" cy="58.5" r="17.5" fill="none" stroke="#8c8c8c" stroke-width="1"/>
<circle cx="221.5" cy="59.0" r="14" fill="#fff"/>
<circle cx="39.5" cy="57.7" r="17.5" fill="#d9d9d9"/>
<circle cx="39.5" cy="57.7" r="17.5" fill="none" stroke="#8c8c8c" stroke-width="1"/>
<circle cx="40.0" cy="58.2" r="14" fill="#fff"/>
</g>
</g>
<circle cx="210" cy="1152" r="174.2" fill="none" stroke="#6a4e34" stroke-width="2.6"/>
<g id="c4" clip-path="url(#k4)">
<defs>
<linearGradient id="g4" gradientUnits="userSpaceOnUse" x1="1105" y1="0" x2="1300" y2="0"><stop offset="0" stop-color="#8a959b"/><stop offset="0.44" stop-color="#8a959b"/><stop offset="0.52" stop-color="#7b868c"/><stop offset="0.555" stop-color="#555e64"/><stop offset="0.575" stop-color="#3f474d"/><stop offset="0.605" stop-color="#4a5258"/><stop offset="0.61" stop-color="#8e999f"/><stop offset="1" stop-color="#8d989e"/></linearGradient>
<linearGradient id="g4d" x1="0" y1="0" x2="0" y2="1"><stop offset="0" stop-color="#1c1f22"/><stop offset="0.3" stop-color="#0d0f10"/><stop offset="1" stop-color="#131517"/></linearGradient>
<pattern id="pWk4" width="30" height="13" patternUnits="userSpaceOnUse"><rect width="30" height="13" fill="#4e3d2b"/><ellipse cx="15" cy="3.4" rx="13.6" ry="2.7" fill="#937f68"/><ellipse cx="15" cy="2.7" rx="10" ry="1.1" fill="#a8947c"/><ellipse cx="0" cy="9.9" rx="13.6" ry="2.7" fill="#8a765f"/><ellipse cx="30" cy="9.9" rx="13.6" ry="2.7" fill="#8a765f"/><ellipse cx="0" cy="9.2" rx="10" ry="1.1" fill="#9f8b73"/><ellipse cx="30" cy="9.2" rx="10" ry="1.1" fill="#9f8b73"/><rect x="13.5" y="6.3" width="3" height="6.6" fill="#7a6650"/><rect x="-1.5" y="0" width="3" height="6.6" fill="#7a6650"/><rect x="28.5" y="0" width="3" height="6.6" fill="#7a6650"/></pattern>
<pattern id="pWk4b" width="6.5" height="22" patternUnits="userSpaceOnUse"><rect width="6.5" height="22" fill="#a08c75"/><rect x="0" y="0" width="1.2" height="22" fill="#6e5a45"/><rect x="2" y="0" width="2" height="22" fill="#b5a28b"/></pattern>
<radialGradient id="gKnob" cx="0.55" cy="0.42" r="0.62"><stop offset="0" stop-color="#d2d0ca"/><stop offset="0.45" stop-color="#b8b6b0"/><stop offset="0.8" stop-color="#8a8a88"/><stop offset="1" stop-color="#4a4b4c"/></radialGradient>
<radialGradient id="gKsh" cx="0.5" cy="0.5" r="0.5"><stop offset="0" stop-color="#2a3036" stop-opacity="0.75"/><stop offset="0.6" stop-color="#3a4248" stop-opacity="0.35"/><stop offset="1" stop-color="#3a4248" stop-opacity="0"/></radialGradient>
</defs>
<rect x="1105" y="0" width="360" height="360" fill="url(#g4)"/>
<rect x="1124" y="0" width="3.4" height="360" fill="#56616a"/>
<rect x="1132.5" y="0" width="3.6" height="360" fill="#56616a"/>
<rect x="1127.4" y="0" width="5.1" height="360" fill="#939ea4"/>
<rect x="1300" y="0" width="165" height="134" fill="url(#pWk4)"/>
<rect x="1300" y="64" width="165" height="40" fill="#a8947c" opacity="0.18"/>
<polygon points="1300,125.5 1465,131 1465,148 1300,143" fill="url(#pWk4b)"/>
<polygon points="1300,142 1465,147.5 1465,181 1300,175.5" fill="#8a949a"/>
<polygon points="1300,141.5 1465,147 1465,148.6 1300,143.2" fill="#5e5648"/>
<polygon points="1300,175.5 1465,181 1465,360 1300,360" fill="url(#g4d)"/>
<rect x="1298.2" y="0" width="2.2" height="360" fill="#9ca6ac"/>
<ellipse cx="1256" cy="190" rx="30" ry="34" fill="url(#gKsh)"/>
<linearGradient id="gKb" x1="0" y1="0" x2="0" y2="1"><stop offset="0" stop-color="#8a8c8e"/><stop offset="0.3" stop-color="#e8e8e8"/><stop offset="0.5" stop-color="#4a4c4e"/><stop offset="0.62" stop-color="#f2f2f2"/><stop offset="0.8" stop-color="#6a6c6e"/><stop offset="1" stop-color="#3a3c3e"/></linearGradient>
<ellipse cx="1255.5" cy="176" rx="8.5" ry="17" fill="url(#gKb)"/>
<ellipse cx="1280.8" cy="175.1" rx="22.2" ry="27" fill="#38393a"/>
<radialGradient id="gKnob2" cx="0.52" cy="0.48" r="0.6"><stop offset="0" stop-color="#9d978f"/><stop offset="0.5" stop-color="#a6a19a"/><stop offset="0.82" stop-color="#bcbbb8"/><stop offset="1" stop-color="#666666"/></radialGradient>
<ellipse cx="1281.2" cy="175.2" rx="20.4" ry="25.2" fill="url(#gKnob2)"/>
<ellipse cx="1293" cy="184" rx="5" ry="14" fill="#fff" opacity="0.7"/>
<ellipse cx="1267.5" cy="172" rx="4" ry="16" fill="#e6e5e2" opacity="0.5"/>
<ellipse cx="1281" cy="156" rx="10" ry="3" fill="#fff" opacity="0.2"/>
</g>
<circle cx="1285" cy="176.5" r="174.5" fill="none" stroke="#8a6a4c" stroke-width="2.4"/>
<g id="c5" clip-path="url(#k5)">
<defs>
<linearGradient id="g5a" x1="0" y1="0" x2="0" y2="1"><stop offset="0" stop-color="#3a3f44"/><stop offset="0.28" stop-color="#33383c"/><stop offset="0.46" stop-color="#292d31"/><stop offset="0.52" stop-color="#17191b"/><stop offset="0.62" stop-color="#1f2225"/><stop offset="1" stop-color="#34393d"/></linearGradient>
<linearGradient id="g5b" gradientUnits="userSpaceOnUse" x1="1279" y1="0" x2="1350" y2="0"><stop offset="0" stop-color="#222629"/><stop offset="0.5" stop-color="#2e3337"/><stop offset="1" stop-color="#474d53"/></linearGradient>
<linearGradient id="g5s" gradientUnits="userSpaceOnUse" x1="1110" y1="0" x2="1364" y2="0"><stop offset="0" stop-color="#8b9398"/><stop offset="1" stop-color="#78828a"/></linearGradient>
</defs>
<rect x="1105" y="485" width="360" height="360" fill="url(#g5a)"/>
<rect x="1264" y="485" width="15" height="360" fill="#22262a"/>
<rect x="1279" y="485" width="71" height="360" fill="url(#g5b)"/>
<rect x="1275.5" y="520" width="2.6" height="320" fill="#6a747b" opacity="0.5"/>
<rect x="1350" y="485" width="19" height="360" fill="#51585e"/>
<rect x="1369" y="485" width="17" height="360" fill="#4b5258"/>
<rect x="1386" y="485" width="5" height="360" fill="#8e989e"/>
<rect x="1391" y="485" width="80" height="360" fill="#596066"/>
<polygon points="1105,647 1364,656 1364,672 1105,662" fill="#14171a" opacity="0.9"/>
<polygon points="1279,656 1350,658 1350,700 1279,690" fill="#1b1e22" opacity="0.6"/>
<polygon points="1105,634.7 1364,644 1364,656 1105,647.3" fill="url(#g5s)"/>
<polygon points="1105,634.7 1364,644 1364,645.5 1105,636.2" fill="#a0abb1" opacity="0.7"/>
<polygon points="1112,601 1360,610 1360,622.5 1112,614.5" fill="#6e5842" opacity="0.5"/>
<line x1="1112" y1="601" x2="1360" y2="610" stroke="#b58b5f" stroke-width="3.2" opacity="0.9" stroke-dasharray="12.5 4"/>
<line x1="1112" y1="614.5" x2="1360" y2="622.5" stroke="#b58b5f" stroke-width="3.2" opacity="0.9" stroke-dasharray="12.5 4" stroke-dashoffset="6"/>
<polygon points="1105,670.3 1351,679 1351,690.5 1105,683.8" fill="#6e5842" opacity="0.5"/>
<line x1="1105" y1="670.3" x2="1351" y2="679" stroke="#b58b5f" stroke-width="3.2" opacity="0.9" stroke-dasharray="12.5 4"/>
<line x1="1105" y1="683.8" x2="1351" y2="690.5" stroke="#b58b5f" stroke-width="3.2" opacity="0.9" stroke-dasharray="12.5 4" stroke-dashoffset="6"/>
<path d="M1352.8,551 L1364.5,595.5 L1359.6,594.5 L1359.6,606 L1346.2,606 L1346.2,594.5 L1341.3,595.5 Z" fill="#a5784d" opacity="0.92"/>
<path d="M1352.8,756.5 L1364.5,711.5 L1359.6,712.8 L1359.6,700.5 L1346.2,700.5 L1346.2,712.8 L1341.3,711.5 Z" fill="#a5784d" opacity="0.92"/>
<rect x="1360" y="529.5" width="17.5" height="31" rx="1" fill="#131415"/>
<rect x="1365" y="529.5" width="3" height="31" fill="#c9c9c9"/>
<rect x="1368" y="530.5" width="1.5" height="29" fill="#6e6e6e"/>
<circle cx="1363" cy="534.5" r="0.9" fill="#bbb"/><circle cx="1363" cy="555.5" r="0.9" fill="#bbb"/>
<circle cx="1373.5" cy="534.5" r="0.9" fill="#bbb"/><circle cx="1373.5" cy="555.5" r="0.9" fill="#bbb"/>
<rect x="1360" y="755" width="17.5" height="31" rx="1" fill="#131415"/>
<rect x="1365" y="755" width="3" height="31" fill="#c9c9c9"/>
<rect x="1368" y="756" width="1.5" height="29" fill="#6e6e6e"/>
<circle cx="1363" cy="760" r="0.9" fill="#bbb"/><circle cx="1363" cy="781" r="0.9" fill="#bbb"/>
<circle cx="1373.5" cy="760" r="0.9" fill="#bbb"/><circle cx="1373.5" cy="781" r="0.9" fill="#bbb"/>
<circle cx="1354.5" cy="636.5" r="1.2" fill="#16181a"/>
<circle cx="1355" cy="683" r="2.2" fill="#8a7a66" opacity="0.8"/>
</g>
<circle cx="1285" cy="665.5" r="174.5" fill="none" stroke="#7d5a3c" stroke-width="2.8"/>
<g id="c6" clip-path="url(#k6)">
<rect x="1105" y="975" width="360" height="360" fill="#fff"/>
<defs>
<linearGradient id="g6i" x1="0" y1="0" x2="0" y2="1"><stop offset="0" stop-color="#3a4046"/><stop offset="0.78" stop-color="#3e454b"/><stop offset="0.84" stop-color="#5a646b"/><stop offset="1" stop-color="#7a858c"/></linearGradient>
</defs>
<rect x="1105" y="1030" width="46" height="136" fill="url(#g6i)"/>
<polygon points="1150,975 1310,975 1310,1179 1150,1164" fill="#9aa2a7"/>
<polygon points="1174,975 1260,975 1260,1145.5 1174,1139" fill="#979fa4"/>
<polyline points="1174,1000 1174,1139 1285,1147.5" fill="none" stroke="#6f7a80" stroke-width="1.4"/>
<line x1="1285" y1="1147.5" x2="1285" y2="1176" stroke="#7b868c" stroke-width="1"/>
<line x1="1174" y1="1139" x2="1174" y2="1165.5" stroke="#7b868c" stroke-width="1"/>
<rect x="1199.9" y="975" width="5.2" height="166" fill="#8a9297"/>
<rect x="1199.9" y="975" width="1.5" height="166" fill="#626b70"/>
<rect x="1203.6" y="975" width="1.5" height="166" fill="#626b70"/>
<rect x="1227.4" y="975" width="5.2" height="168" fill="#8a9297"/>
<rect x="1227.4" y="975" width="1.5" height="168" fill="#626b70"/>
<rect x="1231.1" y="975" width="1.5" height="168" fill="#626b70"/>
<rect x="1254.9" y="975" width="5.2" height="170" fill="#8a9297"/>
<rect x="1254.9" y="975" width="1.5" height="170" fill="#626b70"/>
<rect x="1258.6" y="975" width="1.5" height="170" fill="#626b70"/>
<rect x="1150" y="1030" width="1.4" height="134" fill="#737e84"/>
<polygon points="1309,975 1321,975 1321,1182 1309,1180" fill="#a1a9ae"/>
<rect x="1309.3" y="975" width="1.4" height="204" fill="#7a858b"/>
<rect x="1307.5" y="1096" width="2" height="30" rx="1" fill="#a9aeb1"/>
<polygon points="1321,975 1399,975 1399,1157 1321,1181" fill="#3d4247"/>
<polygon points="1333,975 1386,975 1386,1126 1333,1143" fill="#3a3f44"/>
<polyline points="1333,1143 1386,1126 1386,1010" fill="none" stroke="#4a5157" stroke-width="1.3"/>
<rect x="1390" y="1010" width="9" height="150" fill="#3a4046"/>
<polygon points="1321,1181 1402.5,1154 1405,1205 1324,1239.5" fill="#3d4247"/>
<polygon points="1321,1181 1402.5,1154 1403,1164 1322,1192" fill="#454a4f"/>
<polygon points="1322,1192 1403,1164 1403.3,1168 1322.2,1196" fill="#33383d"/>
<path d="M1105,1161.5 L1321,1181 L1324,1239.5 L1274,1235 C1271,1222 1270,1212 1258,1209 L1105,1195 Z" fill="#969fa4"/>
<path d="M1105,1161.5 L1321,1181 L1321.6,1190 L1105,1170 Z" fill="#a4acb1"/>
<path d="M1105,1170 L1321.6,1190 L1322,1195 L1105,1174.5 Z" fill="#858e93"/>
<line x1="1150" y1="1164.5" x2="1310" y2="1179.5" stroke="#555f65" stroke-width="1.6"/>
<line x1="1321" y1="1181" x2="1324" y2="1239.5" stroke="#a3aeb4" stroke-width="1"/>
</g>
<circle cx="1285" cy="1154" r="174.5" fill="none" stroke="#765232" stroke-width="2.1"/>
<clipPath id="kCab"><path clip-rule="evenodd" d="M519,396 L506,386 L590,361 L938,389 L930,400 L1048,387 L1055,388 L1055,1062 L1048,1063 L930,1047 L930,1095 L593,1133 L513,1099 L513,1048 L519,1050 Z M806,470 L886,470 L886,545 L806,545 Z"/></clipPath>
<g id="dotsl" clip-path="url(#kCab)">
<polyline class="dotsl" points="372,245 425,248 533.2,383.6"/>
<polyline class="dotsl" points="386,637 661,588"/>
<polyline class="dotsl" points="372,1070 492,1049.5 610,1004"/>
<polyline class="dotsl" points="1236.5,351.2 993,503 767,551"/>
<polyline class="dotsl" points="1110.4,600.8 1004,587.6 857,554"/>
<polyline class="dotsl" points="1105,1113 902,1087"/>
</g>
<g id="labels">
<text class="lbl" transform="translate(-1,428) scale(1,0.955)">Decorative Molding Top</text>
<text class="lbl" transform="translate(1120.5,428) scale(1,0.955)">Exquisite Handle</text>
<text class="lbl" transform="translate(49,911) scale(0.995,0.955)">Dual-line Design</text>
<text class="lbl" transform="translate(1082,911) scale(0.998,0.955)">5 Adjustable Shelves</text>
<text class="lbl" transform="translate(81.5,1411) scale(0.995,0.955)">Metal Hinges</text>
<text class="lbl" transform="translate(1173,1411) scale(0.992,0.955)">Stable Base</text>
</g>
</svg>
</body>
</html>
